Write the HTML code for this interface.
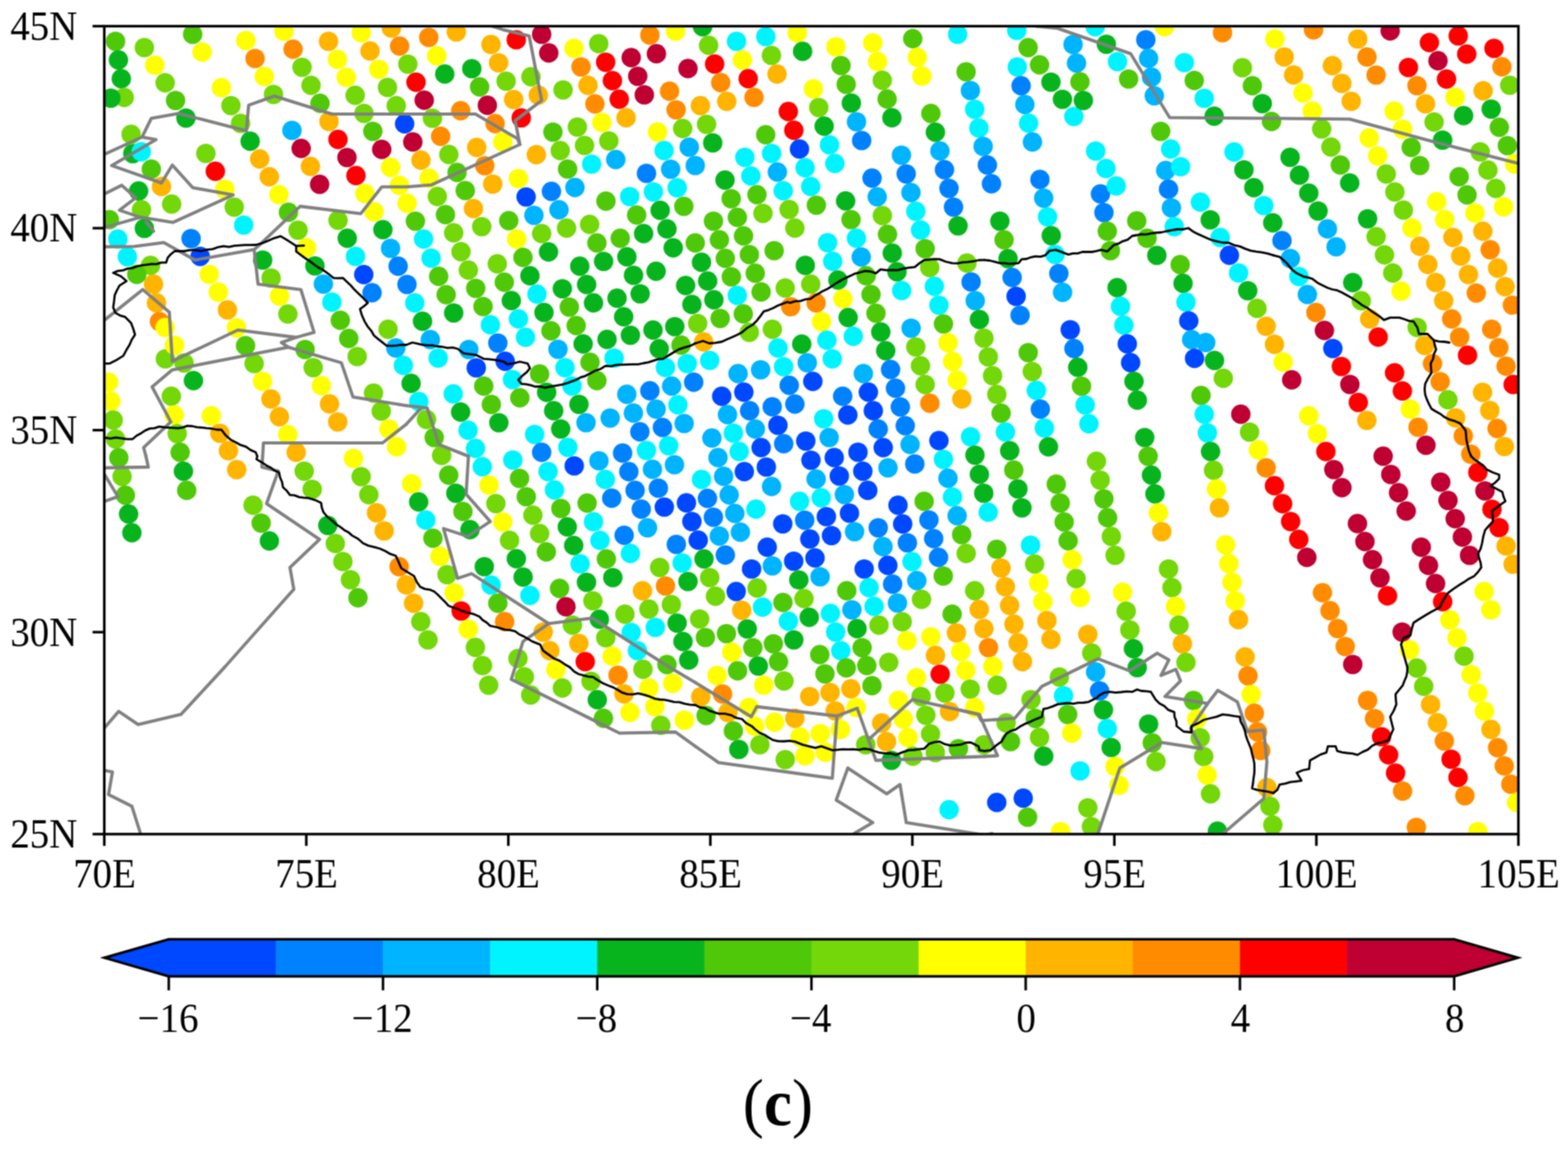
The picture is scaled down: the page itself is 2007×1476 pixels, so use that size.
<!DOCTYPE html>
<html lang="en"><head><meta charset="utf-8"><title>Figure (c)</title>
<style>html,body{margin:0;padding:0;background:#fff}body{width:2007px;height:1476px;overflow:hidden}svg{display:block}text{font-family:"Liberation Serif","DejaVu Serif",serif;fill:#000}.tk{font-size:53px}.cap{font-size:84.5px}.a{fill:#0048ff}.b{fill:#0082ff}.c{fill:#00b4ff}.d{fill:#00f4ff}.e{fill:#08b41e}.f{fill:#50c80a}.g{fill:#73d70a}.y{fill:#ffff00}.o{fill:#ffb400}.p{fill:#ff8c00}.r{fill:#ff0000}.m{fill:#be0032}</style></head><body>
<svg width="2007" height="1476" viewBox="0 0 2007 1476">
<defs><clipPath id="cp"><rect x="133.5" y="33.5" width="1810" height="1034.3"/></clipPath></defs>
<defs><filter id="soft" filterUnits="userSpaceOnUse" x="0" y="0" width="2007" height="1476" color-interpolation-filters="sRGB"><feConvolveMatrix order="3" kernelMatrix="1 2 1 2 4 2 1 2 1" divisor="16" edgeMode="duplicate" preserveAlpha="true"/></filter></defs>
<rect width="2007" height="1476" fill="#fff"/>
<g filter="url(#soft)">
<rect width="2007" height="1476" fill="#fff"/>
<g clip-path="url(#cp)">
<g>
<circle class="f" cx="147.9" cy="52.9" r="12.45"/>
<circle class="e" cx="151.6" cy="76.8" r="12.45"/>
<circle class="e" cx="155.3" cy="100.8" r="12.45"/>
<circle class="g" cx="159" cy="124.8" r="12.45"/>
<circle class="e" cx="170" cy="196.6" r="12.45"/>
<circle class="e" cx="177.4" cy="244.5" r="12.45"/>
<circle class="g" cx="181.1" cy="268.5" r="12.45"/>
<circle class="e" cx="184.8" cy="292.4" r="12.45"/>
<circle class="e" cx="141.9" cy="125.6" r="12.45"/>
<circle class="f" cx="139.9" cy="281.1" r="12.45"/>
<circle class="d" cx="150.9" cy="306" r="12.45"/>
<circle class="b" cx="244.6" cy="305.4" r="12.45"/>
<circle class="g" cx="184.8" cy="60.9" r="12.45"/>
<circle class="y" cx="198.1" cy="83.4" r="12.45"/>
<circle class="g" cx="211.4" cy="106" r="12.45"/>
<circle class="f" cx="224.7" cy="128.6" r="12.45"/>
<circle class="e" cx="238" cy="151.1" r="12.45"/>
<circle class="g" cx="167.8" cy="171.9" r="12.45"/>
<circle class="d" cx="180.8" cy="194.2" r="12.45"/>
<circle class="f" cx="193.7" cy="216.5" r="12.45"/>
<circle class="o" cx="206.7" cy="238.8" r="12.45"/>
<circle class="g" cx="219.7" cy="261.2" r="12.45"/>
<circle class="f" cx="246.6" cy="43.9" r="12.45"/>
<circle class="y" cx="258.8" cy="66.7" r="12.45"/>
<circle class="y" cx="283.4" cy="112.3" r="12.45"/>
<circle class="g" cx="295.6" cy="135.1" r="12.45"/>
<circle class="g" cx="307.9" cy="157.9" r="12.45"/>
<circle class="e" cx="320.2" cy="180.7" r="12.45"/>
<circle class="o" cx="332.4" cy="203.5" r="12.45"/>
<circle class="o" cx="344.7" cy="226.3" r="12.45"/>
<circle class="y" cx="357" cy="249.1" r="12.45"/>
<circle class="f" cx="369.2" cy="271.8" r="12.45"/>
<circle class="g" cx="381.5" cy="294.6" r="12.45"/>
<circle class="g" cx="263.5" cy="196.4" r="12.45"/>
<circle class="r" cx="275.6" cy="219.3" r="12.45"/>
<circle class="y" cx="287.7" cy="242.2" r="12.45"/>
<circle class="g" cx="299.8" cy="265.1" r="12.45"/>
<circle class="d" cx="311.9" cy="288.1" r="12.45"/>
<circle class="y" cx="314.7" cy="51.9" r="12.45"/>
<circle class="p" cx="326.5" cy="74.9" r="12.45"/>
<circle class="y" cx="338.3" cy="97.9" r="12.45"/>
<circle class="g" cx="350.1" cy="120.9" r="12.45"/>
<circle class="c" cx="373.7" cy="166.9" r="12.45"/>
<circle class="m" cx="385.5" cy="190" r="12.45"/>
<circle class="o" cx="397.3" cy="213" r="12.45"/>
<circle class="m" cx="409.1" cy="236" r="12.45"/>
<circle class="g" cx="432.7" cy="282" r="12.45"/>
<circle class="e" cx="444.5" cy="305" r="12.45"/>
<circle class="y" cx="363.5" cy="39.9" r="12.45"/>
<circle class="p" cx="375.1" cy="63" r="12.45"/>
<circle class="g" cx="386.6" cy="86.1" r="12.45"/>
<circle class="g" cx="398.1" cy="109.2" r="12.45"/>
<circle class="f" cx="409.6" cy="132.3" r="12.45"/>
<circle class="o" cx="421.1" cy="155.4" r="12.45"/>
<circle class="r" cx="432.6" cy="178.5" r="12.45"/>
<circle class="m" cx="444.1" cy="201.6" r="12.45"/>
<circle class="r" cx="455.6" cy="224.7" r="12.45"/>
<circle class="y" cx="467.1" cy="247.8" r="12.45"/>
<circle class="y" cx="478.6" cy="270.9" r="12.45"/>
<circle class="e" cx="490.1" cy="294" r="12.45"/>
<circle class="o" cx="420.5" cy="52.9" r="12.45"/>
<circle class="y" cx="431.9" cy="75.9" r="12.45"/>
<circle class="y" cx="443.2" cy="99" r="12.45"/>
<circle class="g" cx="454.6" cy="122" r="12.45"/>
<circle class="g" cx="465.9" cy="145.1" r="12.45"/>
<circle class="f" cx="477.2" cy="168.1" r="12.45"/>
<circle class="m" cx="488.6" cy="191.2" r="12.45"/>
<circle class="y" cx="499.9" cy="214.2" r="12.45"/>
<circle class="y" cx="511.2" cy="237.2" r="12.45"/>
<circle class="y" cx="462.4" cy="41.9" r="12.45"/>
<circle class="o" cx="473.6" cy="65.2" r="12.45"/>
<circle class="y" cx="484.8" cy="88.6" r="12.45"/>
<circle class="g" cx="496" cy="111.9" r="12.45"/>
<circle class="g" cx="507.2" cy="135.2" r="12.45"/>
<circle class="o" cx="501" cy="35.9" r="12.45"/>
<circle class="p" cx="511.5" cy="59" r="12.45"/>
<circle class="g" cx="522" cy="82.1" r="12.45"/>
<circle class="r" cx="532.5" cy="105.2" r="12.45"/>
<circle class="m" cx="543" cy="128.3" r="12.45"/>
<circle class="g" cx="553.5" cy="151.4" r="12.45"/>
<circle class="p" cx="564" cy="174.5" r="12.45"/>
<circle class="g" cx="574.5" cy="197.7" r="12.45"/>
<circle class="f" cx="585" cy="220.8" r="12.45"/>
<circle class="f" cx="595.5" cy="243.9" r="12.45"/>
<circle class="o" cx="606" cy="267" r="12.45"/>
<circle class="g" cx="616.6" cy="290.1" r="12.45"/>
<circle class="a" cx="517.9" cy="158.5" r="12.45"/>
<circle class="m" cx="528.4" cy="181.8" r="12.45"/>
<circle class="o" cx="538.8" cy="205" r="12.45"/>
<circle class="y" cx="549.3" cy="228.3" r="12.45"/>
<circle class="g" cx="559.8" cy="251.5" r="12.45"/>
<circle class="f" cx="570.2" cy="274.8" r="12.45"/>
<circle class="g" cx="580.7" cy="298" r="12.45"/>
<circle class="y" cx="521.1" cy="260.2" r="12.45"/>
<circle class="f" cx="531.7" cy="283.1" r="12.45"/>
<circle class="d" cx="542.2" cy="306" r="12.45"/>
<circle class="p" cx="548.8" cy="47.9" r="12.45"/>
<circle class="y" cx="559" cy="71.4" r="12.45"/>
<circle class="e" cx="569.3" cy="94.8" r="12.45"/>
<circle class="p" cx="589.7" cy="141.8" r="12.45"/>
<circle class="o" cx="610.2" cy="188.7" r="12.45"/>
<circle class="p" cx="620.5" cy="212.1" r="12.45"/>
<circle class="o" cx="630.7" cy="235.6" r="12.45"/>
<circle class="f" cx="651.2" cy="282.5" r="12.45"/>
<circle class="y" cx="661.4" cy="306" r="12.45"/>
<circle class="o" cx="584.1" cy="40.9" r="12.45"/>
<circle class="e" cx="603.9" cy="87.9" r="12.45"/>
<circle class="f" cx="613.9" cy="111.3" r="12.45"/>
<circle class="m" cx="623.8" cy="134.8" r="12.45"/>
<circle class="p" cx="633.7" cy="158.2" r="12.45"/>
<circle class="y" cx="643.6" cy="181.7" r="12.45"/>
<circle class="y" cx="663.5" cy="228.6" r="12.45"/>
<circle class="a" cx="673.4" cy="252.1" r="12.45"/>
<circle class="c" cx="683.4" cy="275.6" r="12.45"/>
<circle class="g" cx="693.3" cy="299" r="12.45"/>
<circle class="o" cx="628.5" cy="56.9" r="12.45"/>
<circle class="o" cx="638.2" cy="80.4" r="12.45"/>
<circle class="g" cx="647.8" cy="103.9" r="12.45"/>
<circle class="o" cx="657.5" cy="127.4" r="12.45"/>
<circle class="r" cx="667.2" cy="150.9" r="12.45"/>
<circle class="o" cx="686.5" cy="198" r="12.45"/>
<circle class="b" cx="705.8" cy="245" r="12.45"/>
<circle class="c" cx="715.5" cy="268.5" r="12.45"/>
<circle class="g" cx="725.2" cy="292" r="12.45"/>
<circle class="r" cx="660.8" cy="50.9" r="12.45"/>
<circle class="g" cx="679.6" cy="98.2" r="12.45"/>
<circle class="o" cx="689" cy="121.8" r="12.45"/>
<circle class="f" cx="707.7" cy="169.1" r="12.45"/>
<circle class="g" cx="717.1" cy="192.8" r="12.45"/>
<circle class="f" cx="726.5" cy="216.4" r="12.45"/>
<circle class="c" cx="735.9" cy="240" r="12.45"/>
<circle class="g" cx="754.7" cy="287.3" r="12.45"/>
<circle class="f" cx="764" cy="311" r="12.45"/>
<circle class="m" cx="693.3" cy="43.9" r="12.45"/>
<circle class="m" cx="702.4" cy="67.7" r="12.45"/>
<circle class="g" cx="720.7" cy="115.1" r="12.45"/>
<circle class="g" cx="739" cy="162.6" r="12.45"/>
<circle class="g" cx="748.2" cy="186.3" r="12.45"/>
<circle class="d" cx="757.3" cy="210.1" r="12.45"/>
<circle class="f" cx="775.6" cy="257.5" r="12.45"/>
<circle class="f" cx="793.9" cy="305" r="12.45"/>
<circle class="y" cx="734.7" cy="61.9" r="12.45"/>
<circle class="p" cx="743.7" cy="85.6" r="12.45"/>
<circle class="o" cx="752.6" cy="109.3" r="12.45"/>
<circle class="p" cx="761.5" cy="133" r="12.45"/>
<circle class="y" cx="770.4" cy="156.7" r="12.45"/>
<circle class="g" cx="779.3" cy="180.4" r="12.45"/>
<circle class="c" cx="788.2" cy="204.2" r="12.45"/>
<circle class="d" cx="806" cy="251.6" r="12.45"/>
<circle class="f" cx="814.9" cy="275.3" r="12.45"/>
<circle class="e" cx="823.8" cy="299" r="12.45"/>
<circle class="g" cx="766.4" cy="55.9" r="12.45"/>
<circle class="r" cx="775.2" cy="79.6" r="12.45"/>
<circle class="r" cx="783.9" cy="103.3" r="12.45"/>
<circle class="r" cx="792.6" cy="127" r="12.45"/>
<circle class="o" cx="801.4" cy="150.7" r="12.45"/>
<circle class="b" cx="827.5" cy="221.9" r="12.45"/>
<circle class="d" cx="836.3" cy="245.6" r="12.45"/>
<circle class="e" cx="845" cy="269.3" r="12.45"/>
<circle class="e" cx="853.7" cy="293" r="12.45"/>
<circle class="m" cx="807.9" cy="73.8" r="12.45"/>
<circle class="m" cx="816.3" cy="97.6" r="12.45"/>
<circle class="m" cx="824.7" cy="121.4" r="12.45"/>
<circle class="y" cx="841.6" cy="169" r="12.45"/>
<circle class="d" cx="850" cy="192.8" r="12.45"/>
<circle class="c" cx="858.4" cy="216.6" r="12.45"/>
<circle class="d" cx="866.8" cy="240.4" r="12.45"/>
<circle class="f" cx="875.3" cy="264.1" r="12.45"/>
<circle class="p" cx="831.8" cy="44.9" r="12.45"/>
<circle class="m" cx="840.2" cy="68.8" r="12.45"/>
<circle class="p" cx="857" cy="116.7" r="12.45"/>
<circle class="p" cx="865.4" cy="140.6" r="12.45"/>
<circle class="g" cx="873.8" cy="164.5" r="12.45"/>
<circle class="c" cx="882.2" cy="188.4" r="12.45"/>
<circle class="y" cx="864.7" cy="39.9" r="12.45"/>
<circle class="m" cx="880.6" cy="87.8" r="12.45"/>
<circle class="o" cx="896.5" cy="135.2" r="12.45"/>
<circle class="g" cx="904.4" cy="159.1" r="12.45"/>
<circle class="e" cx="912.3" cy="182.9" r="12.45"/>
<circle class="e" cx="928" cy="230.5" r="12.45"/>
<circle class="f" cx="935.9" cy="254.4" r="12.45"/>
<circle class="f" cx="943.8" cy="278.2" r="12.45"/>
<circle class="f" cx="951.7" cy="302" r="12.45"/>
<circle class="c" cx="889.9" cy="211.9" r="12.45"/>
<circle class="f" cx="913.2" cy="283.1" r="12.45"/>
<circle class="f" cx="920.8" cy="307" r="12.45"/>
<circle class="f" cx="889.9" cy="311" r="12.45"/>
<circle class="e" cx="899.3" cy="34.2" r="12.45"/>
<circle class="g" cx="907" cy="58" r="12.45"/>
<circle class="r" cx="914.7" cy="81.9" r="12.45"/>
<circle class="p" cx="922.5" cy="105.8" r="12.45"/>
<circle class="o" cx="930.2" cy="129.7" r="12.45"/>
<circle class="d" cx="953.4" cy="201.4" r="12.45"/>
<circle class="d" cx="961.1" cy="225.3" r="12.45"/>
<circle class="f" cx="968.9" cy="249.2" r="12.45"/>
<circle class="g" cx="976.6" cy="273.1" r="12.45"/>
<circle class="d" cx="942.7" cy="52.9" r="12.45"/>
<circle class="y" cx="950.2" cy="76.8" r="12.45"/>
<circle class="r" cx="957.7" cy="100.7" r="12.45"/>
<circle class="p" cx="965.1" cy="124.6" r="12.45"/>
<circle class="f" cx="980.1" cy="172.5" r="12.45"/>
<circle class="d" cx="987.6" cy="196.4" r="12.45"/>
<circle class="c" cx="995" cy="220.3" r="12.45"/>
<circle class="d" cx="1002.5" cy="244.2" r="12.45"/>
<circle class="g" cx="1010" cy="268.1" r="12.45"/>
<circle class="g" cx="1017.4" cy="292" r="12.45"/>
<circle class="d" cx="980.2" cy="46.9" r="12.45"/>
<circle class="g" cx="987.4" cy="70.9" r="12.45"/>
<circle class="o" cx="994.6" cy="94.8" r="12.45"/>
<circle class="r" cx="1009" cy="142.8" r="12.45"/>
<circle class="r" cx="1016.1" cy="166.8" r="12.45"/>
<circle class="a" cx="1023.3" cy="190.7" r="12.45"/>
<circle class="d" cx="1030.5" cy="214.7" r="12.45"/>
<circle class="d" cx="1037.7" cy="238.7" r="12.45"/>
<circle class="f" cx="1044.9" cy="262.6" r="12.45"/>
<circle class="d" cx="1059.3" cy="310.6" r="12.45"/>
<circle class="y" cx="1020.4" cy="41.9" r="12.45"/>
<circle class="e" cx="1027.3" cy="65.8" r="12.45"/>
<circle class="y" cx="1041.1" cy="113.7" r="12.45"/>
<circle class="g" cx="1048" cy="137.6" r="12.45"/>
<circle class="e" cx="1054.9" cy="161.5" r="12.45"/>
<circle class="d" cx="1061.7" cy="185.4" r="12.45"/>
<circle class="d" cx="1068.6" cy="209.3" r="12.45"/>
<circle class="e" cx="1082.4" cy="257.2" r="12.45"/>
<circle class="f" cx="1089.3" cy="281.1" r="12.45"/>
<circle class="d" cx="1096.2" cy="305" r="12.45"/>
<circle class="y" cx="1069.9" cy="59.9" r="12.45"/>
<circle class="f" cx="1076.5" cy="83.9" r="12.45"/>
<circle class="f" cx="1083.1" cy="107.9" r="12.45"/>
<circle class="e" cx="1089.7" cy="131.9" r="12.45"/>
<circle class="c" cx="1096.3" cy="155.9" r="12.45"/>
<circle class="b" cx="1102.9" cy="179.9" r="12.45"/>
<circle class="b" cx="1116.2" cy="228" r="12.45"/>
<circle class="c" cx="1122.8" cy="252" r="12.45"/>
<circle class="g" cx="1129.4" cy="276" r="12.45"/>
<circle class="f" cx="1136" cy="300" r="12.45"/>
<circle class="y" cx="1117.1" cy="54.9" r="12.45"/>
<circle class="y" cx="1123.2" cy="78.8" r="12.45"/>
<circle class="g" cx="1129.3" cy="102.8" r="12.45"/>
<circle class="f" cx="1135.5" cy="126.7" r="12.45"/>
<circle class="e" cx="1141.6" cy="150.7" r="12.45"/>
<circle class="c" cx="1153.8" cy="198.6" r="12.45"/>
<circle class="b" cx="1159.9" cy="222.6" r="12.45"/>
<circle class="c" cx="1166" cy="246.5" r="12.45"/>
<circle class="d" cx="1172.2" cy="270.5" r="12.45"/>
<circle class="d" cx="1178.3" cy="294.4" r="12.45"/>
<circle class="f" cx="1168.3" cy="49.5" r="12.45"/>
<circle class="y" cx="1174.1" cy="73.5" r="12.45"/>
<circle class="y" cx="1179.9" cy="97.4" r="12.45"/>
<circle class="f" cx="1191.5" cy="145.3" r="12.45"/>
<circle class="e" cx="1197.3" cy="169.3" r="12.45"/>
<circle class="c" cx="1203.1" cy="193.2" r="12.45"/>
<circle class="b" cx="1208.9" cy="217.2" r="12.45"/>
<circle class="b" cx="1214.7" cy="241.1" r="12.45"/>
<circle class="b" cx="1220.5" cy="265.1" r="12.45"/>
<circle class="e" cx="1226.3" cy="289.1" r="12.45"/>
<circle class="d" cx="1225.7" cy="43.9" r="12.45"/>
<circle class="f" cx="1236.6" cy="91.9" r="12.45"/>
<circle class="c" cx="1242.1" cy="115.9" r="12.45"/>
<circle class="d" cx="1247.6" cy="139.9" r="12.45"/>
<circle class="d" cx="1253" cy="163.9" r="12.45"/>
<circle class="c" cx="1258.4" cy="187.4" r="12.45"/>
<circle class="b" cx="1263.8" cy="211.3" r="12.45"/>
<circle class="b" cx="1269.1" cy="235.2" r="12.45"/>
<circle class="e" cx="1279.8" cy="283.1" r="12.45"/>
<circle class="f" cx="1285.2" cy="307" r="12.45"/>
<circle class="d" cx="1302.1" cy="85.8" r="12.45"/>
<circle class="b" cx="1307" cy="109.8" r="12.45"/>
<circle class="c" cx="1311.8" cy="133.7" r="12.45"/>
<circle class="d" cx="1316.6" cy="157.7" r="12.45"/>
<circle class="c" cx="1321.5" cy="181.7" r="12.45"/>
<circle class="b" cx="1331.1" cy="229.7" r="12.45"/>
<circle class="c" cx="1335.9" cy="253.6" r="12.45"/>
<circle class="d" cx="1340.8" cy="277.6" r="12.45"/>
<circle class="e" cx="1345.6" cy="301.6" r="12.45"/>
<circle class="d" cx="1301.4" cy="38.9" r="12.45"/>
<circle class="f" cx="1316" cy="61" r="12.45"/>
<circle class="f" cx="1330.6" cy="83" r="12.45"/>
<circle class="e" cx="1345.2" cy="105.1" r="12.45"/>
<circle class="e" cx="1359.9" cy="127.1" r="12.45"/>
<circle class="d" cx="1374.5" cy="149.1" r="12.45"/>
<circle class="c" cx="1373.5" cy="56.9" r="12.45"/>
<circle class="c" cx="1377.9" cy="80.8" r="12.45"/>
<circle class="f" cx="1382.3" cy="104.7" r="12.45"/>
<circle class="e" cx="1386.7" cy="128.6" r="12.45"/>
<circle class="b" cx="1408.6" cy="248.2" r="12.45"/>
<circle class="b" cx="1413" cy="272.1" r="12.45"/>
<circle class="f" cx="1417.3" cy="296" r="12.45"/>
<circle class="d" cx="1401.8" cy="34.3" r="12.45"/>
<circle class="e" cx="1416.1" cy="56.6" r="12.45"/>
<circle class="d" cx="1430.4" cy="78.9" r="12.45"/>
<circle class="f" cx="1444.6" cy="101.1" r="12.45"/>
<circle class="b" cx="1466.6" cy="50.9" r="12.45"/>
<circle class="c" cx="1470.2" cy="74.8" r="12.45"/>
<circle class="c" cx="1473.9" cy="98.7" r="12.45"/>
<circle class="c" cx="1477.5" cy="122.6" r="12.45"/>
<circle class="c" cx="1492.1" cy="218.3" r="12.45"/>
<circle class="b" cx="1495.7" cy="242.2" r="12.45"/>
<circle class="c" cx="1499.4" cy="266.1" r="12.45"/>
<circle class="d" cx="1503" cy="290.1" r="12.45"/>
<circle class="y" cx="1490.5" cy="34.3" r="12.45"/>
<circle class="d" cx="1515.9" cy="80.1" r="12.45"/>
<circle class="f" cx="1528.6" cy="103" r="12.45"/>
<circle class="d" cx="1541.4" cy="125.9" r="12.45"/>
<circle class="e" cx="1554.1" cy="148.7" r="12.45"/>
<circle class="d" cx="1579.5" cy="194.5" r="12.45"/>
<circle class="e" cx="1592.2" cy="217.4" r="12.45"/>
<circle class="e" cx="1604.9" cy="240.3" r="12.45"/>
<circle class="d" cx="1617.6" cy="263.1" r="12.45"/>
<circle class="f" cx="1485.7" cy="168.1" r="12.45"/>
<circle class="d" cx="1498.4" cy="190.7" r="12.45"/>
<circle class="d" cx="1511.1" cy="213.4" r="12.45"/>
<circle class="d" cx="1536.5" cy="258.7" r="12.45"/>
<circle class="e" cx="1549.1" cy="281.4" r="12.45"/>
<circle class="d" cx="1561.8" cy="304" r="12.45"/>
<circle class="g" cx="1590.3" cy="86.8" r="12.45"/>
<circle class="f" cx="1603" cy="109.7" r="12.45"/>
<circle class="e" cx="1615.7" cy="132.6" r="12.45"/>
<circle class="p" cx="1564.8" cy="41.9" r="12.45"/>
<circle class="d" cx="1402.4" cy="193.4" r="12.45"/>
<circle class="d" cx="1415.6" cy="215.7" r="12.45"/>
<circle class="d" cx="1428.7" cy="238" r="12.45"/>
<circle class="f" cx="1455" cy="282.7" r="12.45"/>
<circle class="f" cx="1468.2" cy="305" r="12.45"/>
<circle class="f" cx="1627.5" cy="155.5" r="12.45"/>
<circle class="e" cx="1651.3" cy="201.4" r="12.45"/>
<circle class="e" cx="1663.3" cy="224.3" r="12.45"/>
<circle class="e" cx="1675.2" cy="247.2" r="12.45"/>
<circle class="e" cx="1687.1" cy="270.1" r="12.45"/>
<circle class="c" cx="1699.1" cy="293" r="12.45"/>
<circle class="y" cx="1631.9" cy="49.9" r="12.45"/>
<circle class="o" cx="1643.8" cy="72.9" r="12.45"/>
<circle class="o" cx="1655.8" cy="96" r="12.45"/>
<circle class="y" cx="1667.8" cy="119" r="12.45"/>
<circle class="y" cx="1679.7" cy="142.1" r="12.45"/>
<circle class="g" cx="1691.7" cy="165.1" r="12.45"/>
<circle class="g" cx="1703.6" cy="188.2" r="12.45"/>
<circle class="f" cx="1715.6" cy="211.2" r="12.45"/>
<circle class="e" cx="1727.6" cy="234.3" r="12.45"/>
<circle class="e" cx="1750.5" cy="280.1" r="12.45"/>
<circle class="g" cx="1761.4" cy="303" r="12.45"/>
<circle class="p" cx="1681.3" cy="38.3" r="12.45"/>
<circle class="o" cx="1705.4" cy="84" r="12.45"/>
<circle class="o" cx="1717.5" cy="106.8" r="12.45"/>
<circle class="o" cx="1729.5" cy="129.6" r="12.45"/>
<circle class="y" cx="1752.5" cy="176.5" r="12.45"/>
<circle class="y" cx="1763.4" cy="199.6" r="12.45"/>
<circle class="g" cx="1774.4" cy="222.7" r="12.45"/>
<circle class="g" cx="1785.4" cy="245.8" r="12.45"/>
<circle class="g" cx="1796.3" cy="268.9" r="12.45"/>
<circle class="y" cx="1807.3" cy="292" r="12.45"/>
<circle class="o" cx="1737.9" cy="49.9" r="12.45"/>
<circle class="p" cx="1749.7" cy="73" r="12.45"/>
<circle class="p" cx="1761.4" cy="96.1" r="12.45"/>
<circle class="y" cx="1784.4" cy="142.2" r="12.45"/>
<circle class="y" cx="1795.3" cy="165.4" r="12.45"/>
<circle class="f" cx="1806.3" cy="188.7" r="12.45"/>
<circle class="f" cx="1817.2" cy="211.9" r="12.45"/>
<circle class="y" cx="1838.8" cy="258.2" r="12.45"/>
<circle class="y" cx="1849.2" cy="281.1" r="12.45"/>
<circle class="o" cx="1859.7" cy="304" r="12.45"/>
<circle class="r" cx="1802.7" cy="86.4" r="12.45"/>
<circle class="p" cx="1813.7" cy="109.6" r="12.45"/>
<circle class="o" cx="1824.6" cy="132.9" r="12.45"/>
<circle class="g" cx="1835.6" cy="156.2" r="12.45"/>
<circle class="e" cx="1846.5" cy="179.4" r="12.45"/>
<circle class="f" cx="1867.7" cy="226.3" r="12.45"/>
<circle class="f" cx="1877.8" cy="249.5" r="12.45"/>
<circle class="y" cx="1887.9" cy="272.8" r="12.45"/>
<circle class="o" cx="1898" cy="296" r="12.45"/>
<circle class="m" cx="1779.4" cy="39.5" r="12.45"/>
<circle class="r" cx="1829.6" cy="54.5" r="12.45"/>
<circle class="m" cx="1840.6" cy="77.8" r="12.45"/>
<circle class="r" cx="1851.5" cy="101.2" r="12.45"/>
<circle class="y" cx="1862.5" cy="124.6" r="12.45"/>
<circle class="e" cx="1873.4" cy="148" r="12.45"/>
<circle class="g" cx="1894.6" cy="194.4" r="12.45"/>
<circle class="g" cx="1904.5" cy="217.8" r="12.45"/>
<circle class="g" cx="1914.5" cy="241.3" r="12.45"/>
<circle class="y" cx="1924.5" cy="264.7" r="12.45"/>
<circle class="r" cx="1866.5" cy="45.9" r="12.45"/>
<circle class="r" cx="1877.4" cy="69.2" r="12.45"/>
<circle class="o" cx="1898.4" cy="116.3" r="12.45"/>
<circle class="e" cx="1908.7" cy="139.6" r="12.45"/>
<circle class="f" cx="1919.1" cy="163" r="12.45"/>
<circle class="f" cx="1929.4" cy="186.4" r="12.45"/>
<circle class="y" cx="1938.8" cy="209.9" r="12.45"/>
<circle class="r" cx="1912.3" cy="61.9" r="12.45"/>
<circle class="p" cx="1922.4" cy="85.5" r="12.45"/>
<circle class="g" cx="1932.4" cy="109.1" r="12.45"/>
<circle class="e" cx="1629.1" cy="285.2" r="12.45"/>
<circle class="b" cx="1640.9" cy="308" r="12.45"/>
<circle class="g" cx="192.7" cy="339.8" r="12.45"/>
<circle class="o" cx="196.5" cy="363.7" r="12.45"/>
<circle class="o" cx="200.3" cy="387.7" r="12.45"/>
<circle class="p" cx="204.1" cy="411.6" r="12.45"/>
<circle class="g" cx="211.7" cy="459.4" r="12.45"/>
<circle class="g" cx="219.3" cy="507.2" r="12.45"/>
<circle class="y" cx="223" cy="531.2" r="12.45"/>
<circle class="g" cx="226.8" cy="555.1" r="12.45"/>
<circle class="f" cx="230.6" cy="579" r="12.45"/>
<circle class="d" cx="163" cy="328.6" r="12.45"/>
<circle class="f" cx="175.1" cy="351.3" r="12.45"/>
<circle class="y" cx="211.3" cy="419.3" r="12.45"/>
<circle class="y" cx="223.4" cy="442" r="12.45"/>
<circle class="g" cx="235.5" cy="464.6" r="12.45"/>
<circle class="e" cx="247.6" cy="487.3" r="12.45"/>
<circle class="a" cx="256.2" cy="328.2" r="12.45"/>
<circle class="y" cx="267.8" cy="351.1" r="12.45"/>
<circle class="y" cx="279.4" cy="373.9" r="12.45"/>
<circle class="o" cx="291.1" cy="396.8" r="12.45"/>
<circle class="y" cx="302.7" cy="419.6" r="12.45"/>
<circle class="f" cx="314.3" cy="442.5" r="12.45"/>
<circle class="g" cx="325.3" cy="465.4" r="12.45"/>
<circle class="y" cx="336" cy="488.1" r="12.45"/>
<circle class="o" cx="346.8" cy="510.8" r="12.45"/>
<circle class="o" cx="357.6" cy="533.5" r="12.45"/>
<circle class="y" cx="368.3" cy="556.3" r="12.45"/>
<circle class="o" cx="379.1" cy="579" r="12.45"/>
<circle class="e" cx="336.2" cy="332.9" r="12.45"/>
<circle class="g" cx="347" cy="355.9" r="12.45"/>
<circle class="y" cx="357.8" cy="379" r="12.45"/>
<circle class="g" cx="368.5" cy="402" r="12.45"/>
<circle class="f" cx="390.5" cy="447.4" r="12.45"/>
<circle class="g" cx="400.9" cy="470.6" r="12.45"/>
<circle class="y" cx="411.4" cy="493.8" r="12.45"/>
<circle class="o" cx="421.8" cy="517" r="12.45"/>
<circle class="o" cx="432.3" cy="540.1" r="12.45"/>
<circle class="y" cx="392.3" cy="317.2" r="12.45"/>
<circle class="e" cx="403.1" cy="340.4" r="12.45"/>
<circle class="c" cx="413.9" cy="363.6" r="12.45"/>
<circle class="d" cx="424.8" cy="386.8" r="12.45"/>
<circle class="f" cx="435.6" cy="410" r="12.45"/>
<circle class="f" cx="446.4" cy="433.2" r="12.45"/>
<circle class="g" cx="457.2" cy="456.4" r="12.45"/>
<circle class="g" cx="478.1" cy="503.3" r="12.45"/>
<circle class="g" cx="488" cy="526.2" r="12.45"/>
<circle class="y" cx="497.8" cy="549.1" r="12.45"/>
<circle class="y" cx="507.6" cy="572" r="12.45"/>
<circle class="d" cx="455" cy="328.2" r="12.45"/>
<circle class="a" cx="465.6" cy="351.5" r="12.45"/>
<circle class="b" cx="476.2" cy="374.7" r="12.45"/>
<circle class="g" cx="496.7" cy="421.5" r="12.45"/>
<circle class="c" cx="506.6" cy="445.5" r="12.45"/>
<circle class="c" cx="499.9" cy="317.9" r="12.45"/>
<circle class="b" cx="509.6" cy="340.8" r="12.45"/>
<circle class="y" cx="138.9" cy="489.3" r="12.45"/>
<circle class="y" cx="141.9" cy="513.6" r="12.45"/>
<circle class="g" cx="144.9" cy="537.8" r="12.45"/>
<circle class="g" cx="147.9" cy="562" r="12.45"/>
<circle class="y" cx="270.5" cy="532.2" r="12.45"/>
<circle class="o" cx="281.4" cy="554.6" r="12.45"/>
<circle class="o" cx="292.4" cy="577" r="12.45"/>
<circle class="d" cx="551.8" cy="330.4" r="12.45"/>
<circle class="f" cx="561.5" cy="353.8" r="12.45"/>
<circle class="f" cx="571.1" cy="377.2" r="12.45"/>
<circle class="e" cx="580.7" cy="400.6" r="12.45"/>
<circle class="c" cx="600" cy="447.4" r="12.45"/>
<circle class="a" cx="609.6" cy="470.9" r="12.45"/>
<circle class="f" cx="619.2" cy="494.3" r="12.45"/>
<circle class="f" cx="628.9" cy="517.7" r="12.45"/>
<circle class="e" cx="638.5" cy="541.1" r="12.45"/>
<circle class="g" cx="590.1" cy="322.3" r="12.45"/>
<circle class="g" cx="599.5" cy="345.7" r="12.45"/>
<circle class="f" cx="608.9" cy="369.1" r="12.45"/>
<circle class="f" cx="618.3" cy="392.4" r="12.45"/>
<circle class="d" cx="627.7" cy="415.8" r="12.45"/>
<circle class="b" cx="637.2" cy="439.1" r="12.45"/>
<circle class="a" cx="646.6" cy="462.5" r="12.45"/>
<circle class="d" cx="656" cy="485.9" r="12.45"/>
<circle class="f" cx="665.4" cy="509.2" r="12.45"/>
<circle class="d" cx="684.3" cy="556.1" r="12.45"/>
<circle class="b" cx="693.3" cy="579" r="12.45"/>
<circle class="g" cx="636.5" cy="337.8" r="12.45"/>
<circle class="f" cx="645.5" cy="361.3" r="12.45"/>
<circle class="e" cx="654.5" cy="384.8" r="12.45"/>
<circle class="d" cx="663.6" cy="408.3" r="12.45"/>
<circle class="d" cx="672.6" cy="431.7" r="12.45"/>
<circle class="f" cx="690.7" cy="478.7" r="12.45"/>
<circle class="e" cx="699.7" cy="502.2" r="12.45"/>
<circle class="e" cx="708.7" cy="525.7" r="12.45"/>
<circle class="e" cx="717.7" cy="549.1" r="12.45"/>
<circle class="d" cx="726.8" cy="572.6" r="12.45"/>
<circle class="f" cx="669.4" cy="329.5" r="12.45"/>
<circle class="e" cx="678.3" cy="353" r="12.45"/>
<circle class="d" cx="687.3" cy="376.5" r="12.45"/>
<circle class="e" cx="696.3" cy="400" r="12.45"/>
<circle class="f" cx="705.2" cy="423.5" r="12.45"/>
<circle class="c" cx="714.2" cy="447.1" r="12.45"/>
<circle class="d" cx="723.2" cy="470.6" r="12.45"/>
<circle class="d" cx="732.2" cy="494.1" r="12.45"/>
<circle class="e" cx="741.1" cy="517.6" r="12.45"/>
<circle class="c" cx="750.1" cy="541.1" r="12.45"/>
<circle class="e" cx="702.1" cy="322.5" r="12.45"/>
<circle class="e" cx="719.8" cy="369.6" r="12.45"/>
<circle class="f" cx="728.7" cy="393.1" r="12.45"/>
<circle class="f" cx="737.5" cy="416.7" r="12.45"/>
<circle class="e" cx="746.4" cy="440.2" r="12.45"/>
<circle class="f" cx="755.2" cy="463.8" r="12.45"/>
<circle class="f" cx="764" cy="487.3" r="12.45"/>
<circle class="c" cx="781" cy="535.1" r="12.45"/>
<circle class="b" cx="796.9" cy="580" r="12.45"/>
<circle class="e" cx="742.1" cy="340.8" r="12.45"/>
<circle class="e" cx="750.9" cy="364.2" r="12.45"/>
<circle class="e" cx="759.7" cy="387.7" r="12.45"/>
<circle class="e" cx="777" cy="434.5" r="12.45"/>
<circle class="d" cx="786" cy="458.4" r="12.45"/>
<circle class="c" cx="802.3" cy="504.8" r="12.45"/>
<circle class="c" cx="810.7" cy="528.8" r="12.45"/>
<circle class="b" cx="819" cy="552.7" r="12.45"/>
<circle class="d" cx="827.4" cy="576.6" r="12.45"/>
<circle class="e" cx="772.6" cy="334.6" r="12.45"/>
<circle class="e" cx="789.8" cy="381.8" r="12.45"/>
<circle class="e" cx="798.3" cy="405.5" r="12.45"/>
<circle class="e" cx="806.9" cy="429.1" r="12.45"/>
<circle class="b" cx="831.8" cy="500.3" r="12.45"/>
<circle class="c" cx="839.8" cy="523.7" r="12.45"/>
<circle class="b" cx="847.9" cy="547.2" r="12.45"/>
<circle class="d" cx="855.9" cy="570.6" r="12.45"/>
<circle class="e" cx="802.4" cy="328.7" r="12.45"/>
<circle class="e" cx="810.9" cy="352.4" r="12.45"/>
<circle class="e" cx="819.4" cy="376.1" r="12.45"/>
<circle class="e" cx="835.8" cy="422.5" r="12.45"/>
<circle class="e" cx="843.8" cy="446.5" r="12.45"/>
<circle class="d" cx="851.7" cy="470.4" r="12.45"/>
<circle class="c" cx="859.7" cy="494.3" r="12.45"/>
<circle class="d" cx="867.7" cy="518.2" r="12.45"/>
<circle class="c" cx="875.7" cy="542.1" r="12.45"/>
<circle class="e" cx="839.8" cy="347.2" r="12.45"/>
<circle class="e" cx="863.7" cy="418.1" r="12.45"/>
<circle class="f" cx="871.7" cy="441.8" r="12.45"/>
<circle class="d" cx="879.6" cy="465.4" r="12.45"/>
<circle class="e" cx="861.7" cy="317.2" r="12.45"/>
<circle class="e" cx="877.6" cy="365.5" r="12.45"/>
<circle class="e" cx="885.6" cy="389.7" r="12.45"/>
<circle class="b" cx="520.9" cy="364.1" r="12.45"/>
<circle class="d" cx="530.9" cy="387.7" r="12.45"/>
<circle class="e" cx="540.8" cy="411.2" r="12.45"/>
<circle class="c" cx="550.8" cy="434.8" r="12.45"/>
<circle class="d" cx="560.8" cy="458.4" r="12.45"/>
<circle class="d" cx="580.1" cy="504.3" r="12.45"/>
<circle class="e" cx="589.6" cy="527.5" r="12.45"/>
<circle class="d" cx="599.1" cy="550.8" r="12.45"/>
<circle class="d" cx="608.6" cy="574" r="12.45"/>
<circle class="d" cx="516.3" cy="467.7" r="12.45"/>
<circle class="e" cx="526.2" cy="490.8" r="12.45"/>
<circle class="d" cx="536" cy="513.9" r="12.45"/>
<circle class="g" cx="545.9" cy="537" r="12.45"/>
<circle class="f" cx="555.8" cy="560.1" r="12.45"/>
<circle class="g" cx="565.3" cy="583" r="12.45"/>
<circle class="g" cx="893" cy="414.1" r="12.45"/>
<circle class="o" cx="900.7" cy="437.7" r="12.45"/>
<circle class="d" cx="908.4" cy="461.4" r="12.45"/>
<circle class="a" cx="923.8" cy="507.2" r="12.45"/>
<circle class="c" cx="931.2" cy="530.8" r="12.45"/>
<circle class="d" cx="938.7" cy="554.4" r="12.45"/>
<circle class="d" cx="946.1" cy="578" r="12.45"/>
<circle class="b" cx="887.9" cy="489.3" r="12.45"/>
<circle class="c" cx="911.2" cy="560.7" r="12.45"/>
<circle class="e" cx="897.9" cy="335.8" r="12.45"/>
<circle class="e" cx="905.8" cy="359.8" r="12.45"/>
<circle class="e" cx="913.8" cy="383.7" r="12.45"/>
<circle class="f" cx="921.8" cy="407.6" r="12.45"/>
<circle class="c" cx="944.7" cy="478.3" r="12.45"/>
<circle class="a" cx="952.1" cy="502" r="12.45"/>
<circle class="b" cx="959.5" cy="525.7" r="12.45"/>
<circle class="c" cx="966.8" cy="549.3" r="12.45"/>
<circle class="a" cx="974.2" cy="573" r="12.45"/>
<circle class="f" cx="928.4" cy="330.7" r="12.45"/>
<circle class="f" cx="936.1" cy="354.4" r="12.45"/>
<circle class="d" cx="943.7" cy="378.1" r="12.45"/>
<circle class="f" cx="951.4" cy="401.8" r="12.45"/>
<circle class="g" cx="959.1" cy="425.5" r="12.45"/>
<circle class="c" cx="973.6" cy="473.4" r="12.45"/>
<circle class="b" cx="988.4" cy="520.7" r="12.45"/>
<circle class="a" cx="995.7" cy="544.4" r="12.45"/>
<circle class="b" cx="1003.1" cy="568" r="12.45"/>
<circle class="f" cx="959.2" cy="325.9" r="12.45"/>
<circle class="f" cx="966.7" cy="349.8" r="12.45"/>
<circle class="f" cx="974.2" cy="373.7" r="12.45"/>
<circle class="g" cx="988.6" cy="421.5" r="12.45"/>
<circle class="d" cx="995.8" cy="445.5" r="12.45"/>
<circle class="d" cx="1003" cy="469.4" r="12.45"/>
<circle class="b" cx="1010.2" cy="493.3" r="12.45"/>
<circle class="b" cx="1017.4" cy="517.2" r="12.45"/>
<circle class="a" cx="1031.4" cy="564.6" r="12.45"/>
<circle class="f" cx="990.9" cy="320.9" r="12.45"/>
<circle class="g" cx="1005.1" cy="368.7" r="12.45"/>
<circle class="p" cx="1012.1" cy="392.6" r="12.45"/>
<circle class="e" cx="1026.2" cy="440.5" r="12.45"/>
<circle class="c" cx="1033.3" cy="464.4" r="12.45"/>
<circle class="a" cx="1040.4" cy="488.3" r="12.45"/>
<circle class="d" cx="1054.3" cy="536.1" r="12.45"/>
<circle class="c" cx="1061.3" cy="560.1" r="12.45"/>
<circle class="e" cx="1030.8" cy="339.8" r="12.45"/>
<circle class="g" cx="1037.7" cy="363.7" r="12.45"/>
<circle class="p" cx="1044.6" cy="387.7" r="12.45"/>
<circle class="y" cx="1051.5" cy="411.6" r="12.45"/>
<circle class="d" cx="1058.4" cy="435.5" r="12.45"/>
<circle class="d" cx="1065.3" cy="459.4" r="12.45"/>
<circle class="b" cx="1078.6" cy="507.2" r="12.45"/>
<circle class="a" cx="1085.2" cy="531.2" r="12.45"/>
<circle class="d" cx="1065.9" cy="334.5" r="12.45"/>
<circle class="e" cx="1072.5" cy="358.5" r="12.45"/>
<circle class="y" cx="1079" cy="382.5" r="12.45"/>
<circle class="e" cx="1085.6" cy="406.5" r="12.45"/>
<circle class="d" cx="1092.2" cy="430.5" r="12.45"/>
<circle class="c" cx="1105.1" cy="478.3" r="12.45"/>
<circle class="a" cx="1111.5" cy="502" r="12.45"/>
<circle class="a" cx="1117.8" cy="525.7" r="12.45"/>
<circle class="b" cx="1124.1" cy="549.3" r="12.45"/>
<circle class="a" cx="1130.5" cy="573" r="12.45"/>
<circle class="c" cx="1102.4" cy="329" r="12.45"/>
<circle class="f" cx="1108.7" cy="353" r="12.45"/>
<circle class="f" cx="1114.9" cy="377" r="12.45"/>
<circle class="f" cx="1121.2" cy="401" r="12.45"/>
<circle class="e" cx="1127.4" cy="425" r="12.45"/>
<circle class="e" cx="1133.7" cy="449" r="12.45"/>
<circle class="b" cx="1139.9" cy="473" r="12.45"/>
<circle class="b" cx="1146.2" cy="497" r="12.45"/>
<circle class="b" cx="1152.4" cy="521" r="12.45"/>
<circle class="b" cx="1158.7" cy="545" r="12.45"/>
<circle class="c" cx="1164.9" cy="569" r="12.45"/>
<circle class="e" cx="1142.1" cy="324" r="12.45"/>
<circle class="e" cx="1148.1" cy="348" r="12.45"/>
<circle class="d" cx="1154.1" cy="372" r="12.45"/>
<circle class="c" cx="1166.2" cy="420.1" r="12.45"/>
<circle class="g" cx="1172.2" cy="444.1" r="12.45"/>
<circle class="g" cx="1178.2" cy="468.2" r="12.45"/>
<circle class="g" cx="1184.2" cy="492.2" r="12.45"/>
<circle class="p" cx="1190.2" cy="516.2" r="12.45"/>
<circle class="a" cx="1201.8" cy="564" r="12.45"/>
<circle class="f" cx="1184.2" cy="318.4" r="12.45"/>
<circle class="g" cx="1190" cy="342.5" r="12.45"/>
<circle class="d" cx="1195.9" cy="366.5" r="12.45"/>
<circle class="d" cx="1201.8" cy="390.6" r="12.45"/>
<circle class="f" cx="1207.6" cy="414.6" r="12.45"/>
<circle class="y" cx="1213.5" cy="438.7" r="12.45"/>
<circle class="y" cx="1219.4" cy="462.7" r="12.45"/>
<circle class="y" cx="1225.2" cy="486.8" r="12.45"/>
<circle class="o" cx="1231.1" cy="510.8" r="12.45"/>
<circle class="d" cx="1242.3" cy="559.1" r="12.45"/>
<circle class="g" cx="1237.7" cy="336.8" r="12.45"/>
<circle class="b" cx="1243" cy="360.9" r="12.45"/>
<circle class="c" cx="1248.3" cy="384.9" r="12.45"/>
<circle class="e" cx="1253.6" cy="409" r="12.45"/>
<circle class="g" cx="1259.5" cy="432.9" r="12.45"/>
<circle class="g" cx="1265" cy="456.9" r="12.45"/>
<circle class="g" cx="1270.5" cy="480.9" r="12.45"/>
<circle class="g" cx="1275.9" cy="504.9" r="12.45"/>
<circle class="f" cx="1281.4" cy="529" r="12.45"/>
<circle class="d" cx="1286.9" cy="553" r="12.45"/>
<circle class="e" cx="1292.4" cy="577" r="12.45"/>
<circle class="e" cx="1290.3" cy="331.1" r="12.45"/>
<circle class="b" cx="1295.5" cy="355.3" r="12.45"/>
<circle class="a" cx="1300.6" cy="379.4" r="12.45"/>
<circle class="b" cx="1305.7" cy="403.6" r="12.45"/>
<circle class="f" cx="1316.1" cy="451.4" r="12.45"/>
<circle class="g" cx="1321.3" cy="475.6" r="12.45"/>
<circle class="d" cx="1326.5" cy="499.7" r="12.45"/>
<circle class="b" cx="1331.6" cy="523.8" r="12.45"/>
<circle class="d" cx="1336.8" cy="547.9" r="12.45"/>
<circle class="e" cx="1342" cy="572" r="12.45"/>
<circle class="d" cx="1350.4" cy="325.8" r="12.45"/>
<circle class="b" cx="1355.3" cy="350.1" r="12.45"/>
<circle class="c" cx="1360.1" cy="374.3" r="12.45"/>
<circle class="a" cx="1369.9" cy="422.1" r="12.45"/>
<circle class="b" cx="1374.7" cy="446.2" r="12.45"/>
<circle class="e" cx="1379.5" cy="470.3" r="12.45"/>
<circle class="f" cx="1384.3" cy="494.4" r="12.45"/>
<circle class="d" cx="1389" cy="518.4" r="12.45"/>
<circle class="d" cx="1393.8" cy="542.5" r="12.45"/>
<circle class="f" cx="1421.3" cy="320.9" r="12.45"/>
<circle class="e" cx="1429.9" cy="368.3" r="12.45"/>
<circle class="d" cx="1434.2" cy="392.3" r="12.45"/>
<circle class="d" cx="1438.5" cy="416.3" r="12.45"/>
<circle class="a" cx="1442.9" cy="440.3" r="12.45"/>
<circle class="a" cx="1447.2" cy="464.3" r="12.45"/>
<circle class="e" cx="1451.5" cy="488.2" r="12.45"/>
<circle class="e" cx="1455.8" cy="512.2" r="12.45"/>
<circle class="e" cx="1465.2" cy="560.1" r="12.45"/>
<circle class="e" cx="1480.7" cy="326.9" r="12.45"/>
<circle class="f" cx="1510.6" cy="338.8" r="12.45"/>
<circle class="e" cx="1514.3" cy="362.8" r="12.45"/>
<circle class="d" cx="1518" cy="386.8" r="12.45"/>
<circle class="a" cx="1521.6" cy="410.8" r="12.45"/>
<circle class="c" cx="1525.3" cy="434.8" r="12.45"/>
<circle class="a" cx="1529" cy="458.8" r="12.45"/>
<circle class="f" cx="1537.3" cy="506.2" r="12.45"/>
<circle class="d" cx="1541.4" cy="530.2" r="12.45"/>
<circle class="d" cx="1545.4" cy="554.1" r="12.45"/>
<circle class="e" cx="1549.5" cy="578" r="12.45"/>
<circle class="a" cx="1573.6" cy="326.7" r="12.45"/>
<circle class="d" cx="1585.4" cy="349.4" r="12.45"/>
<circle class="e" cx="1597.1" cy="372.1" r="12.45"/>
<circle class="g" cx="1608.9" cy="394.8" r="12.45"/>
<circle class="o" cx="1620.6" cy="417.6" r="12.45"/>
<circle class="c" cx="1543.3" cy="438.5" r="12.45"/>
<circle class="e" cx="1554.5" cy="461.4" r="12.45"/>
<circle class="g" cx="1565.8" cy="484.3" r="12.45"/>
<circle class="m" cx="1588.2" cy="530.2" r="12.45"/>
<circle class="g" cx="1599.4" cy="553.1" r="12.45"/>
<circle class="y" cx="1610.7" cy="576" r="12.45"/>
<circle class="e" cx="1247.9" cy="582.6" r="12.45"/>
<circle class="c" cx="1651.7" cy="331" r="12.45"/>
<circle class="d" cx="1662.6" cy="354" r="12.45"/>
<circle class="c" cx="1673.4" cy="377" r="12.45"/>
<circle class="p" cx="1684.3" cy="400" r="12.45"/>
<circle class="m" cx="1695.2" cy="423" r="12.45"/>
<circle class="a" cx="1706" cy="446.1" r="12.45"/>
<circle class="r" cx="1716.9" cy="469.1" r="12.45"/>
<circle class="m" cx="1727.8" cy="492.1" r="12.45"/>
<circle class="r" cx="1738.6" cy="515.1" r="12.45"/>
<circle class="o" cx="1749.5" cy="538.1" r="12.45"/>
<circle class="m" cx="1770.4" cy="584" r="12.45"/>
<circle class="o" cx="1631.3" cy="440.7" r="12.45"/>
<circle class="y" cx="1642.4" cy="463.5" r="12.45"/>
<circle class="m" cx="1653.4" cy="486.3" r="12.45"/>
<circle class="y" cx="1675.3" cy="532.2" r="12.45"/>
<circle class="y" cx="1686.2" cy="555.1" r="12.45"/>
<circle class="r" cx="1697.1" cy="578" r="12.45"/>
<circle class="c" cx="1710.2" cy="315.9" r="12.45"/>
<circle class="e" cx="1731.5" cy="361.7" r="12.45"/>
<circle class="g" cx="1742.4" cy="385" r="12.45"/>
<circle class="o" cx="1753.2" cy="408.3" r="12.45"/>
<circle class="r" cx="1764" cy="431.5" r="12.45"/>
<circle class="r" cx="1785" cy="477.3" r="12.45"/>
<circle class="r" cx="1795" cy="500.5" r="12.45"/>
<circle class="y" cx="1805.1" cy="523.7" r="12.45"/>
<circle class="p" cx="1815.1" cy="546.9" r="12.45"/>
<circle class="m" cx="1825.2" cy="570" r="12.45"/>
<circle class="g" cx="1772.1" cy="326.2" r="12.45"/>
<circle class="g" cx="1782.7" cy="349.5" r="12.45"/>
<circle class="y" cx="1793.3" cy="372.7" r="12.45"/>
<circle class="g" cx="1813.9" cy="419.1" r="12.45"/>
<circle class="o" cx="1823.7" cy="442.3" r="12.45"/>
<circle class="p" cx="1833.6" cy="465.5" r="12.45"/>
<circle class="p" cx="1843.4" cy="488.6" r="12.45"/>
<circle class="g" cx="1853.3" cy="511.8" r="12.45"/>
<circle class="o" cx="1863.2" cy="534.9" r="12.45"/>
<circle class="p" cx="1873" cy="558.1" r="12.45"/>
<circle class="p" cx="1882.6" cy="581.4" r="12.45"/>
<circle class="o" cx="1817.4" cy="315.3" r="12.45"/>
<circle class="o" cx="1827.6" cy="338.5" r="12.45"/>
<circle class="o" cx="1837.8" cy="361.8" r="12.45"/>
<circle class="o" cx="1847.9" cy="385" r="12.45"/>
<circle class="p" cx="1858.1" cy="408.3" r="12.45"/>
<circle class="p" cx="1868.3" cy="431.6" r="12.45"/>
<circle class="r" cx="1878.4" cy="454.8" r="12.45"/>
<circle class="o" cx="1897.6" cy="502.3" r="12.45"/>
<circle class="o" cx="1906.9" cy="525.4" r="12.45"/>
<circle class="p" cx="1916.2" cy="548.5" r="12.45"/>
<circle class="o" cx="1925.5" cy="571.6" r="12.45"/>
<circle class="o" cx="1869.7" cy="327.7" r="12.45"/>
<circle class="o" cx="1879.6" cy="351.4" r="12.45"/>
<circle class="p" cx="1889.6" cy="375.1" r="12.45"/>
<circle class="p" cx="1909.3" cy="421.5" r="12.45"/>
<circle class="p" cx="1918.5" cy="445.1" r="12.45"/>
<circle class="p" cx="1927.7" cy="468.7" r="12.45"/>
<circle class="r" cx="1936.8" cy="492.3" r="12.45"/>
<circle class="p" cx="1907.4" cy="319.6" r="12.45"/>
<circle class="o" cx="1916.9" cy="343.3" r="12.45"/>
<circle class="o" cx="1926.4" cy="367" r="12.45"/>
<circle class="p" cx="1935.8" cy="390.6" r="12.45"/>
<circle class="f" cx="152.1" cy="586" r="12.45"/>
<circle class="g" cx="156.3" cy="610" r="12.45"/>
<circle class="f" cx="160.5" cy="634" r="12.45"/>
<circle class="e" cx="164.6" cy="658" r="12.45"/>
<circle class="e" cx="168.8" cy="682" r="12.45"/>
<circle class="e" cx="234.8" cy="603.3" r="12.45"/>
<circle class="f" cx="239" cy="627.8" r="12.45"/>
<circle class="o" cx="303" cy="601.3" r="12.45"/>
<circle class="g" cx="323.9" cy="646.7" r="12.45"/>
<circle class="f" cx="334.3" cy="669.6" r="12.45"/>
<circle class="e" cx="344.8" cy="692.5" r="12.45"/>
<circle class="g" cx="389.4" cy="603.1" r="12.45"/>
<circle class="g" cx="399.6" cy="626.4" r="12.45"/>
<circle class="e" cx="419.6" cy="672.6" r="12.45"/>
<circle class="g" cx="429.2" cy="695.8" r="12.45"/>
<circle class="g" cx="438.9" cy="718.9" r="12.45"/>
<circle class="g" cx="448.6" cy="742.1" r="12.45"/>
<circle class="f" cx="458.2" cy="765.3" r="12.45"/>
<circle class="y" cx="452.4" cy="586.9" r="12.45"/>
<circle class="g" cx="462.3" cy="610.1" r="12.45"/>
<circle class="g" cx="472.1" cy="633.2" r="12.45"/>
<circle class="o" cx="481.9" cy="656.4" r="12.45"/>
<circle class="o" cx="491.7" cy="679.6" r="12.45"/>
<circle class="y" cx="526.9" cy="619.2" r="12.45"/>
<circle class="e" cx="535.9" cy="642.5" r="12.45"/>
<circle class="d" cx="545" cy="665.7" r="12.45"/>
<circle class="f" cx="554.1" cy="689" r="12.45"/>
<circle class="y" cx="563.1" cy="712.3" r="12.45"/>
<circle class="g" cx="572.2" cy="735.6" r="12.45"/>
<circle class="y" cx="581.3" cy="758.9" r="12.45"/>
<circle class="r" cx="590.3" cy="782.1" r="12.45"/>
<circle class="y" cx="599.4" cy="805.4" r="12.45"/>
<circle class="g" cx="608.5" cy="828.7" r="12.45"/>
<circle class="g" cx="617.6" cy="852" r="12.45"/>
<circle class="f" cx="574.4" cy="608.2" r="12.45"/>
<circle class="e" cx="583.5" cy="631.4" r="12.45"/>
<circle class="f" cx="592.5" cy="654.7" r="12.45"/>
<circle class="e" cx="601.6" cy="678" r="12.45"/>
<circle class="e" cx="619.9" cy="725.4" r="12.45"/>
<circle class="d" cx="628.6" cy="748.9" r="12.45"/>
<circle class="f" cx="637.2" cy="772.3" r="12.45"/>
<circle class="p" cx="645.9" cy="795.8" r="12.45"/>
<circle class="g" cx="663" cy="843" r="12.45"/>
<circle class="d" cx="617.3" cy="597.5" r="12.45"/>
<circle class="y" cx="626" cy="621" r="12.45"/>
<circle class="g" cx="634.7" cy="644.6" r="12.45"/>
<circle class="y" cx="643.5" cy="668.1" r="12.45"/>
<circle class="g" cx="652.2" cy="691.7" r="12.45"/>
<circle class="e" cx="660.9" cy="715.2" r="12.45"/>
<circle class="e" cx="669.6" cy="738.7" r="12.45"/>
<circle class="d" cx="678.3" cy="762.3" r="12.45"/>
<circle class="o" cx="695.3" cy="809.1" r="12.45"/>
<circle class="o" cx="703.7" cy="833" r="12.45"/>
<circle class="d" cx="656.4" cy="588.9" r="12.45"/>
<circle class="f" cx="665" cy="612.4" r="12.45"/>
<circle class="f" cx="673.6" cy="635.9" r="12.45"/>
<circle class="g" cx="682.1" cy="659.5" r="12.45"/>
<circle class="g" cx="690.7" cy="683" r="12.45"/>
<circle class="f" cx="699.3" cy="706.5" r="12.45"/>
<circle class="f" cx="716.2" cy="753.3" r="12.45"/>
<circle class="m" cx="724.4" cy="776.7" r="12.45"/>
<circle class="g" cx="732.7" cy="800.2" r="12.45"/>
<circle class="o" cx="740.9" cy="823.6" r="12.45"/>
<circle class="r" cx="749.1" cy="847" r="12.45"/>
<circle class="d" cx="701.5" cy="603.6" r="12.45"/>
<circle class="d" cx="709.7" cy="627.2" r="12.45"/>
<circle class="f" cx="717.9" cy="650.9" r="12.45"/>
<circle class="e" cx="726.1" cy="674.5" r="12.45"/>
<circle class="e" cx="734.3" cy="698.2" r="12.45"/>
<circle class="d" cx="742.5" cy="721.8" r="12.45"/>
<circle class="e" cx="750.7" cy="745.4" r="12.45"/>
<circle class="g" cx="758.9" cy="769.1" r="12.45"/>
<circle class="e" cx="767.2" cy="792.7" r="12.45"/>
<circle class="g" cx="775.4" cy="816.4" r="12.45"/>
<circle class="y" cx="783.6" cy="840" r="12.45"/>
<circle class="a" cx="735" cy="596.4" r="12.45"/>
<circle class="f" cx="751.5" cy="644" r="12.45"/>
<circle class="d" cx="759.7" cy="667.9" r="12.45"/>
<circle class="d" cx="767.9" cy="691.7" r="12.45"/>
<circle class="f" cx="776.1" cy="715.5" r="12.45"/>
<circle class="e" cx="784.4" cy="739.4" r="12.45"/>
<circle class="g" cx="799.9" cy="786.2" r="12.45"/>
<circle class="d" cx="807.9" cy="809.6" r="12.45"/>
<circle class="d" cx="815.9" cy="833" r="12.45"/>
<circle class="c" cx="766.6" cy="589.9" r="12.45"/>
<circle class="d" cx="774.8" cy="613.8" r="12.45"/>
<circle class="b" cx="783" cy="637.7" r="12.45"/>
<circle class="b" cx="798.9" cy="685.2" r="12.45"/>
<circle class="d" cx="806.9" cy="708.5" r="12.45"/>
<circle class="o" cx="822.4" cy="756.3" r="12.45"/>
<circle class="g" cx="830.6" cy="779.7" r="12.45"/>
<circle class="d" cx="838.8" cy="803.1" r="12.45"/>
<circle class="b" cx="804.9" cy="603.8" r="12.45"/>
<circle class="b" cx="812.9" cy="627.8" r="12.45"/>
<circle class="b" cx="820.8" cy="651.7" r="12.45"/>
<circle class="c" cx="828.8" cy="675.6" r="12.45"/>
<circle class="g" cx="844.4" cy="726.4" r="12.45"/>
<circle class="p" cx="851.8" cy="750.1" r="12.45"/>
<circle class="g" cx="859.3" cy="773.9" r="12.45"/>
<circle class="e" cx="866.7" cy="797.6" r="12.45"/>
<circle class="e" cx="874.2" cy="821.3" r="12.45"/>
<circle class="e" cx="881.6" cy="845" r="12.45"/>
<circle class="c" cx="835.1" cy="600.7" r="12.45"/>
<circle class="b" cx="842.7" cy="624.9" r="12.45"/>
<circle class="a" cx="850.3" cy="649.1" r="12.45"/>
<circle class="b" cx="865.7" cy="696.9" r="12.45"/>
<circle class="d" cx="873.2" cy="720.6" r="12.45"/>
<circle class="e" cx="880.6" cy="744.4" r="12.45"/>
<circle class="c" cx="863.3" cy="594.9" r="12.45"/>
<circle class="a" cx="878.6" cy="643.7" r="12.45"/>
<circle class="a" cx="885.6" cy="667.6" r="12.45"/>
<circle class="p" cx="510.9" cy="725.4" r="12.45"/>
<circle class="o" cx="520.1" cy="748.8" r="12.45"/>
<circle class="o" cx="529.4" cy="772.3" r="12.45"/>
<circle class="g" cx="538.6" cy="795.7" r="12.45"/>
<circle class="g" cx="547.8" cy="819.1" r="12.45"/>
<circle class="g" cx="895.5" cy="792.4" r="12.45"/>
<circle class="f" cx="902.9" cy="816.1" r="12.45"/>
<circle class="a" cx="893.7" cy="691.5" r="12.45"/>
<circle class="e" cx="901.1" cy="715.5" r="12.45"/>
<circle class="g" cx="908.4" cy="739.4" r="12.45"/>
<circle class="g" cx="915.8" cy="763.3" r="12.45"/>
<circle class="f" cx="929.8" cy="811.1" r="12.45"/>
<circle class="y" cx="936.7" cy="835" r="12.45"/>
<circle class="c" cx="919" cy="585.8" r="12.45"/>
<circle class="c" cx="926.2" cy="609.7" r="12.45"/>
<circle class="c" cx="933.3" cy="633.5" r="12.45"/>
<circle class="c" cx="940.5" cy="657.3" r="12.45"/>
<circle class="c" cx="947.7" cy="681.2" r="12.45"/>
<circle class="a" cx="962" cy="728.4" r="12.45"/>
<circle class="g" cx="969" cy="752.8" r="12.45"/>
<circle class="d" cx="976" cy="777.2" r="12.45"/>
<circle class="f" cx="989.9" cy="824.1" r="12.45"/>
<circle class="f" cx="996.5" cy="847" r="12.45"/>
<circle class="d" cx="897.9" cy="613.8" r="12.45"/>
<circle class="b" cx="905.5" cy="638" r="12.45"/>
<circle class="b" cx="913.1" cy="662.1" r="12.45"/>
<circle class="c" cx="920.7" cy="686.3" r="12.45"/>
<circle class="b" cx="928.4" cy="710.5" r="12.45"/>
<circle class="a" cx="942.3" cy="757.3" r="12.45"/>
<circle class="o" cx="949.4" cy="781.2" r="12.45"/>
<circle class="e" cx="956.5" cy="805.1" r="12.45"/>
<circle class="f" cx="963.6" cy="829.1" r="12.45"/>
<circle class="e" cx="970.6" cy="852.6" r="12.45"/>
<circle class="a" cx="952.7" cy="603.8" r="12.45"/>
<circle class="d" cx="967.6" cy="651.7" r="12.45"/>
<circle class="a" cx="982" cy="700.5" r="12.45"/>
<circle class="c" cx="988.6" cy="724.4" r="12.45"/>
<circle class="f" cx="1002.1" cy="771.3" r="12.45"/>
<circle class="d" cx="1009.1" cy="795.2" r="12.45"/>
<circle class="e" cx="1016.1" cy="819.1" r="12.45"/>
<circle class="a" cx="980.9" cy="597.9" r="12.45"/>
<circle class="c" cx="987.6" cy="622.8" r="12.45"/>
<circle class="a" cx="1001.9" cy="670.6" r="12.45"/>
<circle class="a" cx="1015.9" cy="718.4" r="12.45"/>
<circle class="e" cx="1022.5" cy="742.4" r="12.45"/>
<circle class="g" cx="1029.1" cy="766.3" r="12.45"/>
<circle class="e" cx="1035.8" cy="790.2" r="12.45"/>
<circle class="f" cx="1049.3" cy="838" r="12.45"/>
<circle class="d" cx="1023.4" cy="641.7" r="12.45"/>
<circle class="b" cx="1030" cy="665.9" r="12.45"/>
<circle class="a" cx="1036.6" cy="690" r="12.45"/>
<circle class="a" cx="1043.2" cy="714.2" r="12.45"/>
<circle class="c" cx="1049.7" cy="738.4" r="12.45"/>
<circle class="d" cx="1062.9" cy="785.2" r="12.45"/>
<circle class="d" cx="1069.6" cy="809.1" r="12.45"/>
<circle class="d" cx="1076.2" cy="833" r="12.45"/>
<circle class="f" cx="1083.2" cy="855" r="12.45"/>
<circle class="a" cx="1038" cy="589.1" r="12.45"/>
<circle class="c" cx="1044.6" cy="613.2" r="12.45"/>
<circle class="d" cx="1051.1" cy="637.3" r="12.45"/>
<circle class="a" cx="1057.7" cy="661.4" r="12.45"/>
<circle class="a" cx="1064.3" cy="685.6" r="12.45"/>
<circle class="f" cx="1083.8" cy="756.3" r="12.45"/>
<circle class="c" cx="1090.4" cy="780.6" r="12.45"/>
<circle class="e" cx="1097" cy="804.8" r="12.45"/>
<circle class="f" cx="1103.5" cy="829.1" r="12.45"/>
<circle class="f" cx="1109.5" cy="852" r="12.45"/>
<circle class="a" cx="1067.8" cy="585.7" r="12.45"/>
<circle class="a" cx="1074.3" cy="609.4" r="12.45"/>
<circle class="c" cx="1080.8" cy="633.1" r="12.45"/>
<circle class="a" cx="1087.3" cy="656.9" r="12.45"/>
<circle class="c" cx="1093.8" cy="680.6" r="12.45"/>
<circle class="a" cx="1106.1" cy="728.4" r="12.45"/>
<circle class="d" cx="1112.4" cy="752.3" r="12.45"/>
<circle class="d" cx="1118.8" cy="776.2" r="12.45"/>
<circle class="g" cx="1125.1" cy="800.2" r="12.45"/>
<circle class="g" cx="1137.6" cy="848" r="12.45"/>
<circle class="a" cx="1098.2" cy="578.9" r="12.45"/>
<circle class="a" cx="1104.4" cy="603.3" r="12.45"/>
<circle class="a" cx="1110.7" cy="627.8" r="12.45"/>
<circle class="b" cx="1124.1" cy="675.6" r="12.45"/>
<circle class="c" cx="1130.2" cy="699.7" r="12.45"/>
<circle class="a" cx="1136.4" cy="723.8" r="12.45"/>
<circle class="b" cx="1142.5" cy="747.8" r="12.45"/>
<circle class="c" cx="1148.7" cy="771.9" r="12.45"/>
<circle class="g" cx="1154.8" cy="796" r="12.45"/>
<circle class="y" cx="1160.9" cy="820.1" r="12.45"/>
<circle class="c" cx="1136.6" cy="598.9" r="12.45"/>
<circle class="a" cx="1149.4" cy="646.7" r="12.45"/>
<circle class="a" cx="1155.4" cy="670.8" r="12.45"/>
<circle class="b" cx="1161.4" cy="694.9" r="12.45"/>
<circle class="d" cx="1167.4" cy="719" r="12.45"/>
<circle class="c" cx="1173.5" cy="743.2" r="12.45"/>
<circle class="g" cx="1179.5" cy="767.3" r="12.45"/>
<circle class="y" cx="1191.4" cy="815.1" r="12.45"/>
<circle class="o" cx="1197.4" cy="839" r="12.45"/>
<circle class="b" cx="1170.9" cy="593.9" r="12.45"/>
<circle class="f" cx="1182.9" cy="641.7" r="12.45"/>
<circle class="b" cx="1189" cy="665.6" r="12.45"/>
<circle class="b" cx="1195.1" cy="689.5" r="12.45"/>
<circle class="b" cx="1201.3" cy="713.5" r="12.45"/>
<circle class="f" cx="1207.4" cy="737.4" r="12.45"/>
<circle class="f" cx="1218.7" cy="786.2" r="12.45"/>
<circle class="o" cx="1224.2" cy="810.1" r="12.45"/>
<circle class="y" cx="1229.7" cy="834" r="12.45"/>
<circle class="d" cx="1207.6" cy="588.1" r="12.45"/>
<circle class="c" cx="1213.4" cy="612.2" r="12.45"/>
<circle class="d" cx="1219.2" cy="636.2" r="12.45"/>
<circle class="c" cx="1225.1" cy="660.3" r="12.45"/>
<circle class="f" cx="1230.9" cy="684.4" r="12.45"/>
<circle class="g" cx="1236.7" cy="708.5" r="12.45"/>
<circle class="g" cx="1247.6" cy="756.3" r="12.45"/>
<circle class="o" cx="1253.4" cy="780.2" r="12.45"/>
<circle class="e" cx="1253.6" cy="607.2" r="12.45"/>
<circle class="e" cx="1259.2" cy="631.4" r="12.45"/>
<circle class="d" cx="1264.9" cy="655.7" r="12.45"/>
<circle class="f" cx="1275.8" cy="703.1" r="12.45"/>
<circle class="o" cx="1281.3" cy="727.1" r="12.45"/>
<circle class="o" cx="1286.8" cy="751.1" r="12.45"/>
<circle class="o" cx="1292.3" cy="775" r="12.45"/>
<circle class="o" cx="1297.8" cy="799" r="12.45"/>
<circle class="o" cx="1303.2" cy="823" r="12.45"/>
<circle class="o" cx="1308.7" cy="847" r="12.45"/>
<circle class="o" cx="1259.4" cy="804.8" r="12.45"/>
<circle class="p" cx="1265.3" cy="829.1" r="12.45"/>
<circle class="y" cx="1270.9" cy="853" r="12.45"/>
<circle class="f" cx="1297.6" cy="601.7" r="12.45"/>
<circle class="e" cx="1302.9" cy="625.9" r="12.45"/>
<circle class="e" cx="1308.1" cy="650.1" r="12.45"/>
<circle class="d" cx="1319.1" cy="697.9" r="12.45"/>
<circle class="g" cx="1324.3" cy="722" r="12.45"/>
<circle class="y" cx="1329.5" cy="746.1" r="12.45"/>
<circle class="y" cx="1334.8" cy="770.3" r="12.45"/>
<circle class="o" cx="1340" cy="794.4" r="12.45"/>
<circle class="o" cx="1345.2" cy="818.5" r="12.45"/>
<circle class="f" cx="1352" cy="619.8" r="12.45"/>
<circle class="f" cx="1357.1" cy="644" r="12.45"/>
<circle class="f" cx="1362.1" cy="668.2" r="12.45"/>
<circle class="f" cx="1367.2" cy="692.3" r="12.45"/>
<circle class="y" cx="1372.3" cy="716.5" r="12.45"/>
<circle class="g" cx="1377.4" cy="740.7" r="12.45"/>
<circle class="y" cx="1382.5" cy="764.9" r="12.45"/>
<circle class="g" cx="1403.4" cy="590.5" r="12.45"/>
<circle class="g" cx="1408.2" cy="614.6" r="12.45"/>
<circle class="f" cx="1413" cy="638.6" r="12.45"/>
<circle class="f" cx="1417.7" cy="662.7" r="12.45"/>
<circle class="g" cx="1422.5" cy="686.8" r="12.45"/>
<circle class="g" cx="1427.3" cy="710.9" r="12.45"/>
<circle class="y" cx="1436.9" cy="758.3" r="12.45"/>
<circle class="g" cx="1441.5" cy="782.4" r="12.45"/>
<circle class="g" cx="1446.2" cy="806.4" r="12.45"/>
<circle class="e" cx="1450.8" cy="830.5" r="12.45"/>
<circle class="e" cx="1455.6" cy="854.6" r="12.45"/>
<circle class="o" cx="1392.4" cy="812.1" r="12.45"/>
<circle class="g" cx="1397.4" cy="836" r="12.45"/>
<circle class="f" cx="1469.6" cy="584.1" r="12.45"/>
<circle class="e" cx="1473.9" cy="608.2" r="12.45"/>
<circle class="e" cx="1478.3" cy="632.3" r="12.45"/>
<circle class="y" cx="1482.7" cy="656.5" r="12.45"/>
<circle class="o" cx="1487.1" cy="680.6" r="12.45"/>
<circle class="g" cx="1495.7" cy="728.4" r="12.45"/>
<circle class="g" cx="1500.1" cy="752.3" r="12.45"/>
<circle class="y" cx="1504.6" cy="776.2" r="12.45"/>
<circle class="g" cx="1509.1" cy="800.2" r="12.45"/>
<circle class="o" cx="1513.5" cy="824.1" r="12.45"/>
<circle class="g" cx="1518" cy="848" r="12.45"/>
<circle class="g" cx="1553.3" cy="602" r="12.45"/>
<circle class="y" cx="1557.1" cy="626" r="12.45"/>
<circle class="o" cx="1560.8" cy="650.1" r="12.45"/>
<circle class="y" cx="1568.8" cy="697.5" r="12.45"/>
<circle class="y" cx="1572.9" cy="721.4" r="12.45"/>
<circle class="y" cx="1577" cy="745.4" r="12.45"/>
<circle class="y" cx="1581.1" cy="769.3" r="12.45"/>
<circle class="o" cx="1585.2" cy="793.2" r="12.45"/>
<circle class="o" cx="1593.7" cy="841" r="12.45"/>
<circle class="p" cx="1620.6" cy="598.9" r="12.45"/>
<circle class="r" cx="1631.3" cy="621.8" r="12.45"/>
<circle class="r" cx="1641.7" cy="644.7" r="12.45"/>
<circle class="r" cx="1652" cy="667.6" r="12.45"/>
<circle class="r" cx="1662.4" cy="690.5" r="12.45"/>
<circle class="m" cx="1672.7" cy="713.5" r="12.45"/>
<circle class="p" cx="1692.7" cy="758.7" r="12.45"/>
<circle class="p" cx="1702.4" cy="781.7" r="12.45"/>
<circle class="p" cx="1712.1" cy="804.6" r="12.45"/>
<circle class="p" cx="1721.8" cy="827.6" r="12.45"/>
<circle class="m" cx="1731.5" cy="850.6" r="12.45"/>
<circle class="m" cx="1707.3" cy="601.1" r="12.45"/>
<circle class="m" cx="1717.6" cy="624.2" r="12.45"/>
<circle class="m" cx="1737.5" cy="670.2" r="12.45"/>
<circle class="m" cx="1747.1" cy="693.3" r="12.45"/>
<circle class="m" cx="1756.8" cy="716.5" r="12.45"/>
<circle class="m" cx="1766.4" cy="739.6" r="12.45"/>
<circle class="r" cx="1776" cy="762.7" r="12.45"/>
<circle class="m" cx="1794.7" cy="809.1" r="12.45"/>
<circle class="y" cx="1804.3" cy="832" r="12.45"/>
<circle class="m" cx="1780.2" cy="607.4" r="12.45"/>
<circle class="m" cx="1790.1" cy="630.8" r="12.45"/>
<circle class="m" cx="1799.9" cy="654.3" r="12.45"/>
<circle class="m" cx="1819.2" cy="700.5" r="12.45"/>
<circle class="m" cx="1828.4" cy="723.8" r="12.45"/>
<circle class="m" cx="1837.5" cy="747" r="12.45"/>
<circle class="r" cx="1846.6" cy="770.3" r="12.45"/>
<circle class="y" cx="1855.8" cy="793.5" r="12.45"/>
<circle class="y" cx="1864.9" cy="816.8" r="12.45"/>
<circle class="g" cx="1874" cy="840" r="12.45"/>
<circle class="m" cx="1844.1" cy="617.2" r="12.45"/>
<circle class="m" cx="1853.4" cy="640.6" r="12.45"/>
<circle class="m" cx="1862.6" cy="664" r="12.45"/>
<circle class="m" cx="1871.8" cy="687.5" r="12.45"/>
<circle class="m" cx="1881" cy="710.9" r="12.45"/>
<circle class="y" cx="1899.6" cy="757.3" r="12.45"/>
<circle class="y" cx="1908.3" cy="780.6" r="12.45"/>
<circle class="r" cx="1891.6" cy="604.8" r="12.45"/>
<circle class="m" cx="1900.7" cy="628.4" r="12.45"/>
<circle class="r" cx="1909.7" cy="651.9" r="12.45"/>
<circle class="r" cx="1918.8" cy="675.4" r="12.45"/>
<circle class="o" cx="1927.8" cy="698.9" r="12.45"/>
<circle class="o" cx="1936.8" cy="722.4" r="12.45"/>
<circle class="g" cx="625.5" cy="877.1" r="12.45"/>
<circle class="g" cx="671.2" cy="866.5" r="12.45"/>
<circle class="g" cx="679.3" cy="889.7" r="12.45"/>
<circle class="y" cx="711.6" cy="857.1" r="12.45"/>
<circle class="g" cx="719.8" cy="880.7" r="12.45"/>
<circle class="g" cx="756.5" cy="872.1" r="12.45"/>
<circle class="e" cx="764.5" cy="895.8" r="12.45"/>
<circle class="f" cx="772.4" cy="919.5" r="12.45"/>
<circle class="p" cx="791.1" cy="864.4" r="12.45"/>
<circle class="o" cx="798.7" cy="888.2" r="12.45"/>
<circle class="y" cx="806.3" cy="912" r="12.45"/>
<circle class="g" cx="823" cy="856.8" r="12.45"/>
<circle class="y" cx="830.6" cy="880.7" r="12.45"/>
<circle class="y" cx="838.2" cy="904.6" r="12.45"/>
<circle class="g" cx="845.8" cy="928.5" r="12.45"/>
<circle class="f" cx="853.7" cy="850.8" r="12.45"/>
<circle class="y" cx="861.1" cy="874.7" r="12.45"/>
<circle class="y" cx="876" cy="921.9" r="12.45"/>
<circle class="o" cx="896.9" cy="892" r="12.45"/>
<circle class="f" cx="903.8" cy="916" r="12.45"/>
<circle class="y" cx="917.8" cy="864.7" r="12.45"/>
<circle class="p" cx="924.8" cy="888.4" r="12.45"/>
<circle class="o" cx="931.7" cy="912.1" r="12.45"/>
<circle class="f" cx="938.7" cy="935.7" r="12.45"/>
<circle class="e" cx="945.7" cy="959.4" r="12.45"/>
<circle class="f" cx="944.1" cy="858.8" r="12.45"/>
<circle class="y" cx="958.7" cy="905.6" r="12.45"/>
<circle class="y" cx="965.6" cy="929.5" r="12.45"/>
<circle class="g" cx="972.6" cy="953.4" r="12.45"/>
<circle class="y" cx="977.6" cy="877.1" r="12.45"/>
<circle class="y" cx="991.5" cy="924.5" r="12.45"/>
<circle class="g" cx="1005.1" cy="972.4" r="12.45"/>
<circle class="g" cx="1003.5" cy="871.7" r="12.45"/>
<circle class="o" cx="1017.4" cy="919.5" r="12.45"/>
<circle class="y" cx="1023.9" cy="943.5" r="12.45"/>
<circle class="y" cx="1030.4" cy="967.4" r="12.45"/>
<circle class="o" cx="1036.4" cy="891.6" r="12.45"/>
<circle class="y" cx="1049.9" cy="939.1" r="12.45"/>
<circle class="y" cx="1056.3" cy="963" r="12.45"/>
<circle class="f" cx="1055.9" cy="862.6" r="12.45"/>
<circle class="o" cx="1062.5" cy="886.4" r="12.45"/>
<circle class="o" cx="1069.1" cy="910.1" r="12.45"/>
<circle class="y" cx="1075.6" cy="933.9" r="12.45"/>
<circle class="o" cx="1089.1" cy="881.7" r="12.45"/>
<circle class="y" cx="1095.8" cy="905.6" r="12.45"/>
<circle class="g" cx="1108.1" cy="953.4" r="12.45"/>
<circle class="f" cx="1116.1" cy="877.7" r="12.45"/>
<circle class="o" cx="1128.5" cy="925.5" r="12.45"/>
<circle class="o" cx="1134.7" cy="949.4" r="12.45"/>
<circle class="e" cx="1141" cy="973.4" r="12.45"/>
<circle class="y" cx="1150" cy="896.6" r="12.45"/>
<circle class="y" cx="1156.2" cy="920.4" r="12.45"/>
<circle class="y" cx="1162.3" cy="944.2" r="12.45"/>
<circle class="g" cx="1168.5" cy="968" r="12.45"/>
<circle class="y" cx="1172.9" cy="867.7" r="12.45"/>
<circle class="g" cx="1179" cy="891.6" r="12.45"/>
<circle class="g" cx="1185.1" cy="915.6" r="12.45"/>
<circle class="g" cx="1191.1" cy="939.5" r="12.45"/>
<circle class="g" cx="1197.2" cy="963.4" r="12.45"/>
<circle class="r" cx="1203.4" cy="863.1" r="12.45"/>
<circle class="g" cx="1209.4" cy="887.1" r="12.45"/>
<circle class="o" cx="1215.4" cy="911" r="12.45"/>
<circle class="f" cx="1226.7" cy="958.4" r="12.45"/>
<circle class="y" cx="1236.1" cy="858.2" r="12.45"/>
<circle class="g" cx="1241.9" cy="882.1" r="12.45"/>
<circle class="y" cx="1247.6" cy="906" r="12.45"/>
<circle class="d" cx="1214.8" cy="1036.5" r="12.45"/>
<circle class="g" cx="1319.7" cy="895.6" r="12.45"/>
<circle class="f" cx="1325.1" cy="919.7" r="12.45"/>
<circle class="g" cx="1330.6" cy="943.9" r="12.45"/>
<circle class="e" cx="1336" cy="968" r="12.45"/>
<circle class="g" cx="1276.4" cy="877.3" r="12.45"/>
<circle class="g" cx="1287.8" cy="925.5" r="12.45"/>
<circle class="f" cx="1293.4" cy="949.4" r="12.45"/>
<circle class="g" cx="1259.5" cy="953.4" r="12.45"/>
<circle class="g" cx="1356" cy="866.7" r="12.45"/>
<circle class="d" cx="1361.3" cy="890.6" r="12.45"/>
<circle class="f" cx="1366.6" cy="914.6" r="12.45"/>
<circle class="y" cx="1371.9" cy="938.5" r="12.45"/>
<circle class="d" cx="1382.5" cy="986.9" r="12.45"/>
<circle class="c" cx="1402.4" cy="860.3" r="12.45"/>
<circle class="b" cx="1407.4" cy="884.4" r="12.45"/>
<circle class="e" cx="1412.4" cy="908.6" r="12.45"/>
<circle class="d" cx="1417.3" cy="932.8" r="12.45"/>
<circle class="e" cx="1422.3" cy="956.9" r="12.45"/>
<circle class="y" cx="1427.3" cy="981.1" r="12.45"/>
<circle class="y" cx="1432.3" cy="1005.2" r="12.45"/>
<circle class="e" cx="1470.2" cy="926.9" r="12.45"/>
<circle class="f" cx="1474.9" cy="950.9" r="12.45"/>
<circle class="g" cx="1479.7" cy="975" r="12.45"/>
<circle class="f" cx="1527.6" cy="896.6" r="12.45"/>
<circle class="y" cx="1531.9" cy="920.5" r="12.45"/>
<circle class="g" cx="1536.3" cy="944.5" r="12.45"/>
<circle class="g" cx="1540.7" cy="968.4" r="12.45"/>
<circle class="y" cx="1545.1" cy="992.3" r="12.45"/>
<circle class="g" cx="1549.5" cy="1016.2" r="12.45"/>
<circle class="e" cx="1558.3" cy="1064" r="12.45"/>
<circle class="p" cx="1597.4" cy="865.1" r="12.45"/>
<circle class="y" cx="1601.5" cy="889.1" r="12.45"/>
<circle class="p" cx="1605.5" cy="913" r="12.45"/>
<circle class="p" cx="1609.6" cy="936.9" r="12.45"/>
<circle class="p" cx="1613.7" cy="960.8" r="12.45"/>
<circle class="o" cx="1621.6" cy="1008.2" r="12.45"/>
<circle class="g" cx="1625.6" cy="1032.2" r="12.45"/>
<circle class="g" cx="1629.2" cy="1056.1" r="12.45"/>
<circle class="a" cx="1275.8" cy="1027.2" r="12.45"/>
<circle class="a" cx="1309.7" cy="1021.8" r="12.45"/>
<circle class="f" cx="1315.3" cy="1046.1" r="12.45"/>
<circle class="g" cx="1392.4" cy="1034.1" r="12.45"/>
<circle class="g" cx="1397" cy="1058.1" r="12.45"/>
<circle class="y" cx="1357.6" cy="1064.6" r="12.45"/>
<circle class="p" cx="1750.5" cy="896.6" r="12.45"/>
<circle class="p" cx="1759.4" cy="919.9" r="12.45"/>
<circle class="r" cx="1768.4" cy="943.1" r="12.45"/>
<circle class="r" cx="1777.4" cy="966.3" r="12.45"/>
<circle class="r" cx="1786.3" cy="989.6" r="12.45"/>
<circle class="p" cx="1795.3" cy="1012.8" r="12.45"/>
<circle class="g" cx="1813.5" cy="855.2" r="12.45"/>
<circle class="g" cx="1822.3" cy="878.5" r="12.45"/>
<circle class="o" cx="1831.1" cy="901.9" r="12.45"/>
<circle class="o" cx="1839.9" cy="925.2" r="12.45"/>
<circle class="p" cx="1848.7" cy="948.6" r="12.45"/>
<circle class="r" cx="1857.4" cy="971.9" r="12.45"/>
<circle class="r" cx="1866.2" cy="995.3" r="12.45"/>
<circle class="p" cx="1875" cy="1018.6" r="12.45"/>
<circle class="y" cx="1883" cy="863.7" r="12.45"/>
<circle class="y" cx="1891.5" cy="887.1" r="12.45"/>
<circle class="y" cx="1900" cy="910.4" r="12.45"/>
<circle class="o" cx="1908.4" cy="933.8" r="12.45"/>
<circle class="p" cx="1916.9" cy="957.1" r="12.45"/>
<circle class="p" cx="1925.4" cy="980.5" r="12.45"/>
<circle class="p" cx="1933.8" cy="1003.9" r="12.45"/>
<circle class="y" cx="1941.2" cy="1027.2" r="12.45"/>
<circle class="p" cx="1812.9" cy="1059.1" r="12.45"/>
<circle class="y" cx="1891.6" cy="1064.6" r="12.45"/>
</g>
<polyline fill="none" stroke="#808080" stroke-width="4.1" stroke-linejoin="round" stroke-linecap="round" points="134,197.4 181.8,175.5 193.7,151.5 228.6,145.2 315.3,167.5 318.3,134.6 351.2,123 424.9,146 520,146"/>
<polyline fill="none" stroke="#808080" stroke-width="4.1" stroke-linejoin="round" stroke-linecap="round" points="181.8,175.5 199.7,178.8 142.9,211.9 206.7,234.3 220.6,211.3 246.6,240.2 298.4,249.6 221.6,284.7 179.8,278.1 152.9,269.1 173.8,253.2 155.9,237.2 134,248.2"/>
<polyline fill="none" stroke="#808080" stroke-width="4.1" stroke-linejoin="round" stroke-linecap="round" points="134,291.1 179.8,278.1"/>
<polyline fill="none" stroke="#808080" stroke-width="4.1" stroke-linejoin="round" stroke-linecap="round" points="186.8,284.1 196.7,296"/>
<polyline fill="none" stroke="#808080" stroke-width="4.1" stroke-linejoin="round" stroke-linecap="round" points="331.7,314 381.1,267.1 384.1,264.1 461.8,273.5 488.7,239.2 520,239.2"/>
<polyline fill="none" stroke="#808080" stroke-width="4.1" stroke-linejoin="round" stroke-linecap="round" points="520,146 608.6,146 662.4,177.4 665.4,185"/>
<polyline fill="none" stroke="#808080" stroke-width="4.1" stroke-linejoin="round" stroke-linecap="round" points="520,239.2 551.8,236.8 665.4,185"/>
<polyline fill="none" stroke="#808080" stroke-width="4.1" stroke-linejoin="round" stroke-linecap="round" points="629.5,33.4 643.5,37.9 677.3,45.9 693.3,128.6 659.4,154.5 665.4,185"/>
<polyline fill="none" stroke="#808080" stroke-width="4.1" stroke-linejoin="round" stroke-linecap="round" points="1325.7,33.4 1353.6,36.3 1447.2,68.8 1497.1,150.5 1630,151.5"/>
<polyline fill="none" stroke="#808080" stroke-width="4.1" stroke-linejoin="round" stroke-linecap="round" points="1630,151.5 1727.6,152.5 1835.2,181.4 1943.8,209.3"/>
<polyline fill="none" stroke="#808080" stroke-width="4.1" stroke-linejoin="round" stroke-linecap="round" points="134,315.9 171.8,315.5 209.7,310.5 249.5,332.9 325.3,319.5"/>
<polyline fill="none" stroke="#808080" stroke-width="4.1" stroke-linejoin="round" stroke-linecap="round" points="331.7,314 325.3,319.5 330.3,363.7 385.1,370.7 402,425.5 379.1,431.9 304.4,422.5 220.6,462.4 216.7,399.6 182.8,370.7 134,409.6"/>
<polyline fill="none" stroke="#808080" stroke-width="4.1" stroke-linejoin="round" stroke-linecap="round" points="379.1,431.9 360.2,438.5 369.1,444.5 220.6,473.4 194.7,495.3 218.7,540.1 183.8,573 186.8,584"/>
<polyline fill="none" stroke="#808080" stroke-width="4.1" stroke-linejoin="round" stroke-linecap="round" points="369.1,444.5 436.9,464.4 451.8,508.2 520,519.2"/>
<polyline fill="none" stroke="#808080" stroke-width="4.1" stroke-linejoin="round" stroke-linecap="round" points="336.2,584 337.2,567 489.7,567 520,543.1"/>
<polyline fill="none" stroke="#808080" stroke-width="4.1" stroke-linejoin="round" stroke-linecap="round" points="520,519.2 546.8,522.2 561.7,569 599.6,584"/>
<polyline fill="none" stroke="#808080" stroke-width="4.1" stroke-linejoin="round" stroke-linecap="round" points="520,543.1 537.8,523.6"/>
<polyline fill="none" stroke="#808080" stroke-width="4.1" stroke-linejoin="round" stroke-linecap="round" points="186.8,584 189.8,597.9 134,598.9"/>
<polyline fill="none" stroke="#808080" stroke-width="4.1" stroke-linejoin="round" stroke-linecap="round" points="134,607.8 150.9,635.7 134,641.7"/>
<polyline fill="none" stroke="#808080" stroke-width="4.1" stroke-linejoin="round" stroke-linecap="round" points="336.2,584 335.2,597.9 356.2,602.9 341.2,644.7 409,690.5 371.1,726.4 376.1,754.3 287.6,854"/>
<polyline fill="none" stroke="#808080" stroke-width="4.1" stroke-linejoin="round" stroke-linecap="round" points="599.6,584 596.6,632.7 627.5,667.6 598.6,686.6 567.7,676.6 585.7,740.4 603.6,734.4 702.3,798.2 758.1,791.2 856.7,854"/>
<polyline fill="none" stroke="#808080" stroke-width="4.1" stroke-linejoin="round" stroke-linecap="round" points="702.3,798.2 669.4,821.1 659.4,854"/>
<polyline fill="none" stroke="#808080" stroke-width="4.1" stroke-linejoin="round" stroke-linecap="round" points="287.6,854 231.6,914.6 176.8,927.5 151.9,910.6 134,931.5"/>
<polyline fill="none" stroke="#808080" stroke-width="4.1" stroke-linejoin="round" stroke-linecap="round" points="134,986.3 143.9,988.3 138.9,1017.2 168.8,1032.2 179.8,1067"/>
<polyline fill="none" stroke="#808080" stroke-width="4.1" stroke-linejoin="round" stroke-linecap="round" points="856.7,854 890,873.7"/>
<polyline fill="none" stroke="#808080" stroke-width="4.1" stroke-linejoin="round" stroke-linecap="round" points="659.4,854 654.4,869.7 792.9,938.5 864.7,937.1 890,955.4"/>
<polyline fill="none" stroke="#808080" stroke-width="4.1" stroke-linejoin="round" stroke-linecap="round" points="890,873.7 961.6,917.6 968.6,904.6 1071.3,916.6 1065.3,996.3 919.8,976.3 890,955.4"/>
<polyline fill="none" stroke="#808080" stroke-width="4.1" stroke-linejoin="round" stroke-linecap="round" points="1071.3,916.6 1097.2,906.6 1121.1,973.4 1260,968.4"/>
<polyline fill="none" stroke="#808080" stroke-width="4.1" stroke-linejoin="round" stroke-linecap="round" points="1113.1,945.5 1167.9,895.6 1253.6,914.6 1260,929.5"/>
<polyline fill="none" stroke="#808080" stroke-width="4.1" stroke-linejoin="round" stroke-linecap="round" points="1085.2,983.3 1135,1016.2 1152,1004.3 1160,1053.1 1260,1069"/>
<polyline fill="none" stroke="#808080" stroke-width="4.1" stroke-linejoin="round" stroke-linecap="round" points="1085.2,983.3 1070.3,1024.2 1117.1,1053.1 1093.2,1067"/>
<polyline fill="none" stroke="#808080" stroke-width="4.1" stroke-linejoin="round" stroke-linecap="round" points="1230,909.6 1251.9,914.6 1255.9,922.5 1298.8,919.5 1333.6,878.7 1405.4,843.4 1446.2,858.8 1481.1,836.2 1496.1,844.8 1486.1,864.7 1505,856.8 1511,871.7 1491.1,891.6 1545.9,900.6 1558.8,883.7 1583.8,898.6 1596.7,936.5 1617.6,934.5 1621.6,975.4 1617.6,1022.2 1566.8,1066"/>
<polyline fill="none" stroke="#808080" stroke-width="4.1" stroke-linejoin="round" stroke-linecap="round" points="1260,929.5 1276.8,967.4 1260,968.4"/>
<polyline fill="none" stroke="#808080" stroke-width="4.1" stroke-linejoin="round" stroke-linecap="round" points="1545.9,900.6 1524,932.5 1537.9,958.4 1487.1,950.4 1433.3,983.3 1405.4,1067"/>
<polyline fill="none" stroke="#808080" stroke-width="4.1" stroke-linejoin="round" stroke-linecap="round" points="1260,1069 1269.9,1067"/>
<polyline fill="none" stroke="#000" stroke-width="2.8" stroke-linejoin="round" stroke-linecap="round" points="134,465.4 139.9,465.4 149.9,460.4 157.9,455.4 161.6,448.3 165.8,441.5 168.7,434.7 172.8,428.5 170.6,421 167.8,413.6 159.9,405.6 153.6,403.8 147.9,400.6 144.9,393.6 146,385.7 146.9,377.7 149.7,371.6 152.9,365.7 161.9,359.8 154.9,353.8 144.9,349.2 150.8,346.9 157.2,346.2 163.1,343.9 169.4,343.1 175.4,341 181.5,339.6 187.8,338.8 194,338 200.3,338.1 206.4,336.2 212.7,336.2 214.7,329.9 218.8,325.3 223.6,321.5 229.6,321.3 235.7,321.5 241.6,320.4 247.6,319.9 257.5,321.5 264.8,319.6 272.3,318.9 279.4,316.3 286.2,315.1 293.1,316.1 299.9,314.7 306.7,314.1 313.6,313.6 320.4,313.6 327.3,313.5 335.4,311.4 343.2,308.3 351,304.8 359.2,302.4 369.1,308.3 379.1,314.9 389.1,314.3"/>
<polyline fill="none" stroke="#000" stroke-width="2.8" stroke-linejoin="round" stroke-linecap="round" points="379.1,314.9 379.1,321.9 384.6,326.1 390.1,330.2 396,333.9 401.4,338.2 407,342.2 412.4,345 417.4,348.3 422.2,352 426.9,355.8 432.9,356.1 438.9,355.8 444,360.7 449.1,365.5 453.7,370.8 458.8,375.7 464.9,381.6 470.8,387.7 466,391.9 460.8,395.6 463.3,403.8 466.8,411.6 470.5,417.8 475.1,423.3 478.7,429.5 483.9,433.9 489.3,438.2 494.7,442.5 501.1,442.9 507.4,442.4 513.7,441.4 520,441.5"/>
<polyline fill="none" stroke="#000" stroke-width="2.8" stroke-linejoin="round" stroke-linecap="round" points="134,560.1 141.1,561.3 148.4,560.2 155.5,561.1 162.6,562.1 169.8,562 174.8,557.8 180.5,554.7 185.8,551.1 191.5,548.6 197.8,548.1 203.7,546.1 211.6,547.2 219.6,547.6 227.6,548.1 233.8,547.3 239.6,545.1 245.9,545.5 252.1,546.9 258.4,547.4 264.6,548.1 270.9,548.6 277.1,550 283.4,550.1 288.8,557.1 295.4,563 301.8,566.2 308,569.7 314.9,571.9 320.8,576.1 327.3,579 329.3,584"/>
<polyline fill="none" stroke="#000" stroke-width="2.8" stroke-linejoin="round" stroke-linecap="round" points="520,441.5 527.9,438.5 534.2,439.8 540.5,441.4 547,442.1 553.5,442.1 559.8,443.5 566.3,444 572.7,445.3 579.3,444.9 585.7,446.5 593.6,452.4 601.6,453.3 609.6,454.4 619.5,459.4 626.1,459.8 632.6,460.7 639.1,461.6 645.5,463.4 649.4,466.4 657.5,465.2 665.4,463 675.4,465.4 678.3,471.4 674.3,476.3 669.4,480.3 663.4,486.3 667.4,491.3 673.5,491.9 679.4,493.1 685.2,495 691.4,494.6 697.3,496.3 704.6,494.9 711.9,493.7 719.2,492.3 725.4,490.7 731.4,488.4 737.4,486.3 743,483.1 749.1,481.3 755.5,477.9 761.9,474.6 768.8,472.2 775,468.4 782,468.9 788.9,467.1 795.9,466.8 802.9,466.6 809.9,466.3 816.9,466.4 823.3,465 829.7,463.8 835.9,461.8 842.1,459.9 848.7,459.4 855.3,455.3 861.9,451.2 868.7,447.4 875.8,444.9 883.2,442.9 890,439.5"/>
<polyline fill="none" stroke="#000" stroke-width="2.8" stroke-linejoin="round" stroke-linecap="round" points="890,439.5 899.9,436.5 907.8,439.5 915.8,438.8 923.8,437.5 930.3,434.5 936.8,431.7 943.4,428.8 949.7,425.5 956.2,419.9 963.6,415.6 968.8,410.4 973.3,404.6 977.6,398.6 983.8,396.8 989.8,394.3 995.5,391.3 1001.5,388.9 1007.5,386.7 1011.5,387.7 1017.8,385.7 1024.5,385.4 1030.8,383.2 1037.4,382.7 1042.5,378.8 1048.1,375.7 1053.5,372.4 1059.3,369.7 1065.1,366.1 1070.9,362.2 1076.8,358.8 1082.9,355.6 1089.2,352.8 1094.9,350.1 1101.1,348.6 1107.1,346.8 1114.3,347.5 1121.1,349.8 1127.1,344.8 1134.4,345.8 1141.7,345.7 1149,345.8 1156.2,343.8 1163.5,342.7 1170.9,341.8 1176.7,337.1 1182.9,332.9 1189.5,332.3 1196.1,331.6 1202.8,331.9 1210.6,335 1218.7,336.8 1225.4,337.2 1232,335.8 1238.7,335.4 1245.8,334.5 1252.8,333 1260,332.9"/>
<polyline fill="none" stroke="#000" stroke-width="2.8" stroke-linejoin="round" stroke-linecap="round" points="1260,332.9 1266.7,333.5 1273.3,335.2 1279.8,336.8 1285.8,336.9 1291.8,337.8 1303.7,336.8 1307.7,331.9 1313.8,331.5 1319.6,329.3 1325.5,328.1 1331.8,328.7 1337.6,326.9 1343.6,320.9 1351.6,319.9 1359.5,322.9 1367.5,325.9 1373.4,324.4 1379.5,324.3 1385.3,322.5 1391.5,322.5 1397.6,322.5 1403.5,321.4 1409.4,319.9 1417.3,321.9 1425.3,313.9 1431.4,311.9 1437.1,308.8 1443.3,306.9 1449.2,302 1455.1,301 1461.1,299.8 1467.2,300.1 1473.1,298.9 1479.1,298 1486.2,297.5 1493.1,296 1500,294.7 1507,293.5 1514.1,293.6 1521,292 1527.2,296.4 1534,299.9 1540.9,303 1548.7,306.5 1556.9,308.9 1564.8,310.5 1572.8,310.9 1579.6,313.8 1586.9,315.4 1593.7,318.4 1600.7,320.9 1608.1,322.1 1615.5,323.1 1622.8,324.6 1630,326.9"/>
<polyline fill="none" stroke="#000" stroke-width="2.8" stroke-linejoin="round" stroke-linecap="round" points="1630,326.9 1637.9,328.9 1642.6,332.8 1647,336.9 1650.8,341.7 1654.9,346.2 1659.8,349.8 1667.8,353.8 1673.8,355.2 1679.7,356.8 1686.3,361.9 1693.7,365.7 1699.4,368.5 1705.4,370.5 1711.6,371.7 1717.7,374.5 1723.6,377.7 1730.5,381.6 1737.1,385.9 1743.5,390.6 1750.7,394.6 1757.4,399.6 1764.7,404.2 1771.4,409.6 1779.4,406.6 1791.3,406.6 1797.2,408.5 1803.1,410.6 1809.3,411.6 1814.3,419.5 1816.2,427.5 1827.2,427.5 1835.2,435.5 1841.7,437.1 1848.5,437.5 1855.1,438.5"/>
<polyline fill="none" stroke="#000" stroke-width="2.8" stroke-linejoin="round" stroke-linecap="round" points="1835.2,435.5 1836.4,441.5 1838.2,447.4 1835.4,453.2 1834.2,459.7 1831.2,465.4 1832.2,477.3 1827.9,484.2 1824.2,491.3 1823.5,498.2 1824.2,505.2 1826.4,511.4 1829.1,517.4 1832.2,523.2 1837.9,526.8 1843.8,530 1849.1,534.1 1855.6,537.2 1862.5,539.2 1869.1,542.1 1876,551.1 1877,563 1878.5,570.1 1880.2,577.2 1883,584"/>
<polyline fill="none" stroke="#000" stroke-width="2.8" stroke-linejoin="round" stroke-linecap="round" points="329.3,584 328.3,587.9 334.8,591.7 341.2,595.9 346.6,598.7 351.5,602.5 357.2,604.8 358.5,611.2 361.1,617.3 362.2,623.8 367.1,628.3 371.1,633.7 377.2,634.1 382.9,636.4 388.9,637.2 395,637.7 403.2,640.1 411,643.7 411.9,649.8 414,655.7 419,661.6 425.1,666.5 430.9,671.6 436,674.9 440.8,678.7 446.2,681.6 450.8,685.6 458.3,689.8 464.8,695.5 471.8,698.6 479.3,700.4 486.7,702.5 493.3,705.5 499.6,709.2 506.6,711.5 510.2,719.4 513.6,727.4 520,731.4"/>
<polyline fill="none" stroke="#000" stroke-width="2.8" stroke-linejoin="round" stroke-linecap="round" points="520,731.4 529.9,737.4 533.3,744.7 537.8,751.3 543.6,753.9 550,754.8 555.8,757.3 560.6,761.5 565,766 569.6,770.4 573.7,775.2 579.6,777.7 585.8,779.5 591.6,782.2 599,784.4 606.5,786.2 613.6,789.2 617.8,793.8 623,797 627.5,801.2 633.9,802.5 640.2,804.1 646.5,806.1 653.1,806.6 659.4,808.1 664.5,812 670.3,814.6 675.8,817.9 681.3,821.1 691.3,825.1 695.3,833 702.2,838 709.2,843 716.3,845.9 722.6,850.2 729.2,854"/>
<polyline fill="none" stroke="#000" stroke-width="2.8" stroke-linejoin="round" stroke-linecap="round" points="1883,584 1887,587.9 1892.7,591.8 1898.2,595.9 1902.9,600.9 1910.7,604.8 1918.9,607.8 1918.9,612.8 1913.8,617.8 1907.9,621.8 1915.4,625.8 1922.9,629.8 1924.5,635.9 1926.9,641.7 1921.2,645.6 1915.7,650 1909.9,653.7 1910.4,660.7 1910.9,667.6 1905.8,673 1900.9,678.6 1898.5,686.9 1897,695.5 1895.2,702.3 1892,708.5 1893.2,714.5 1895.1,720.3 1896,726.4 1891.8,732.2 1887,737.4 1880.1,740.9 1873.7,745.3 1867.1,749.3 1860,754.2 1853.1,759.3 1849.4,765 1845.8,770.9 1843.1,777.2 1837.2,780.6 1831.1,783.7 1825.2,787.2 1819.9,790.5 1814.6,793.8 1809.3,797.2 1807,805.1 1805.3,813.1 1796.3,817.1 1793.3,825.1 1795.4,832.3 1797.2,839.6 1799.3,846.8 1801.3,854"/>
<polyline fill="none" stroke="#000" stroke-width="2.8" stroke-linejoin="round" stroke-linecap="round" points="729.2,854 735.1,859.8 740.8,863 747.1,864.7 753,866.1 759.1,866.7 765.4,871 772,874.7 779,877.7 785.2,880.1 790.9,883.3 796.6,886.7 802.9,888.7 809.9,888.8 816.9,887.7 824.4,889.4 831.7,891.7 838.8,894.6 844.8,895.5 850.9,895.8 856.8,897.1 862.7,898.6 869.6,898.8 876.3,900.9 883.1,902.1 890,902.6"/>
<polyline fill="none" stroke="#000" stroke-width="2.8" stroke-linejoin="round" stroke-linecap="round" points="890,902.6 895.7,905.5 902.1,906.4 907.7,909.6 913.7,911.7 919.8,913.6 927.8,913.6 935.3,915.3 942.2,918.9 949.7,920.5 955.1,925.8 961.9,929.4 967.6,934.5 972.7,938.4 978.6,940.8 984,944.2 989.5,947.4 996.4,948.8 1003.4,949 1010.5,948.3 1017.4,949.4 1027.4,953.4 1035.4,955.3 1043.4,957.4 1051.3,955.4 1058.3,957.9 1065.3,960.4 1071.9,959.8 1078.5,959.2 1085.2,959.4 1092.2,959.1 1099.2,959.8 1106.1,958.5 1113.1,959.4 1119.1,961.5 1125.1,963.4 1132.4,964.3 1139.8,964.5 1147,966.4 1154.8,963.1 1162.9,960.4 1169.6,960 1176.2,959.1 1182.9,958.4 1188.8,952.4 1195.6,950.1 1202.8,949.4 1209.5,952.7 1216.8,954.4 1223.4,953.9 1229.9,953.2 1236.1,950.7 1242.7,950.4 1252.6,955.4 1253.6,960.4 1260,961.4"/>
<polyline fill="none" stroke="#000" stroke-width="2.8" stroke-linejoin="round" stroke-linecap="round" points="1260,961.4 1267.9,960.4 1274.6,954.6 1281.8,949.4 1287.8,939.5 1293.4,935.8 1300,933.9 1305.6,930.1 1311.4,926.9 1317.7,924.4 1323.7,921.5 1333.6,917.6 1335.6,907.6 1341.8,906.3 1347.8,904.1 1353.6,901.6 1360.2,900.7 1366.8,900 1373.6,900.9 1380.1,899.7 1386.8,899.5 1393.4,898.6 1403.4,893.6 1408,889.5 1413.4,886.7 1420.5,885.7 1427.7,886.6 1434.9,886 1442,885.1 1449.2,885.7 1455.2,882.7 1461,884.5 1467.1,884.9 1473.1,885.7 1479.1,895.6 1484.1,900.4 1490.2,903.7 1495.1,908.6 1503,911.6 1503.4,917.7 1505.8,923.4 1506,929.5 1515,936.5 1525,937.5 1525,929.5 1533.2,926.1 1540.9,921.5 1548.9,919.5 1556.9,917.6 1564.8,914.6 1572.2,915.3 1579.5,916.7 1586.8,917.6 1588,923.8 1591.1,929.4 1593.4,935.3 1594.7,941.5 1596.7,947.5 1599.1,953.3 1601.4,959.2 1602.7,965.4 1604.3,971.3 1605.5,977.2 1605.7,983.3 1605.5,989.8 1604.5,996.3 1603.8,1002.8 1602.7,1009.2 1608.6,1011.2 1614.7,1012.2 1622.4,1013.3 1630,1015.2"/>
<polyline fill="none" stroke="#000" stroke-width="2.8" stroke-linejoin="round" stroke-linecap="round" points="1630,1015.2 1634.9,1011.2 1637.9,1004.3 1644.9,1003.1 1651.7,1001.2 1658.8,1000.3 1665.8,999.3 1659.8,989.3 1667.5,986 1675.7,984.3 1676.7,973.4 1683.5,969.7 1690.3,965.9 1697.7,963.4 1699.7,955.4 1709.6,955.4 1711.6,961.4 1718,963.1 1724.5,964 1731.1,964.6 1737.5,966.4 1744,962.6 1750.8,959.6 1756.6,954.5 1763.4,951.4 1770.6,950 1777.4,947.4 1780.3,940.4 1783.4,933.5 1781.4,925.6 1779.4,917.6 1783.9,909.9 1787.3,901.6 1786.6,895.2 1786.3,888.7 1790.8,883.2 1795.3,877.7 1797.6,871.8 1800.1,866 1801.3,859.8 1801.3,854"/>
</g>
<g stroke="#000" stroke-width="3.3" fill="none">
<rect x="133.5" y="33.5" width="1810" height="1034.3"/>
<line x1="133.5" y1="1067.8" x2="133.5" y2="1082.8"/>
<line x1="392.071" y1="1067.8" x2="392.071" y2="1082.8"/>
<line x1="650.643" y1="1067.8" x2="650.643" y2="1082.8"/>
<line x1="909.214" y1="1067.8" x2="909.214" y2="1082.8"/>
<line x1="1167.79" y1="1067.8" x2="1167.79" y2="1082.8"/>
<line x1="1426.36" y1="1067.8" x2="1426.36" y2="1082.8"/>
<line x1="1684.93" y1="1067.8" x2="1684.93" y2="1082.8"/>
<line x1="1943.5" y1="1067.8" x2="1943.5" y2="1082.8"/>
<line x1="118.5" y1="33.5" x2="133.5" y2="33.5"/>
<line x1="118.5" y1="292.075" x2="133.5" y2="292.075"/>
<line x1="118.5" y1="550.65" x2="133.5" y2="550.65"/>
<line x1="118.5" y1="809.225" x2="133.5" y2="809.225"/>
<line x1="118.5" y1="1067.8" x2="133.5" y2="1067.8"/>
</g>
<text class="tk" transform="translate(133.8,1136.3) scale(0.94,1)" text-anchor="middle">70E</text>
<text class="tk" transform="translate(392.4,1136.3) scale(0.94,1)" text-anchor="middle">75E</text>
<text class="tk" transform="translate(650.9,1136.3) scale(0.94,1)" text-anchor="middle">80E</text>
<text class="tk" transform="translate(909.5,1136.3) scale(0.94,1)" text-anchor="middle">85E</text>
<text class="tk" transform="translate(1168.1,1136.3) scale(0.94,1)" text-anchor="middle">90E</text>
<text class="tk" transform="translate(1426.7,1136.3) scale(0.94,1)" text-anchor="middle">95E</text>
<text class="tk" transform="translate(1685.2,1136.3) scale(0.94,1)" text-anchor="middle">100E</text>
<text class="tk" transform="translate(1943.8,1136.3) scale(0.94,1)" text-anchor="middle">105E</text>
<text class="tk" transform="translate(99,50.8) scale(0.94,1)" text-anchor="end">45N</text>
<text class="tk" transform="translate(99,309.4) scale(0.94,1)" text-anchor="end">40N</text>
<text class="tk" transform="translate(99,567.9) scale(0.94,1)" text-anchor="end">35N</text>
<text class="tk" transform="translate(99,826.5) scale(0.94,1)" text-anchor="end">30N</text>
<text class="tk" transform="translate(99,1085.1) scale(0.94,1)" text-anchor="end">25N</text>
<g>
<polygon class="a" points="217,1202.4 133.5,1226.1 217,1249.8"/>
<polygon class="m" points="1860.3,1202.4 1943,1226.1 1860.3,1249.8"/>
<rect class="a" x="216" y="1202.4" width="137.61" height="47.4"/>
<rect class="b" x="353.11" y="1202.4" width="137.61" height="47.4"/>
<rect class="c" x="490.22" y="1202.4" width="137.61" height="47.4"/>
<rect class="d" x="627.32" y="1202.4" width="137.61" height="47.4"/>
<rect class="e" x="764.43" y="1202.4" width="137.61" height="47.4"/>
<rect class="f" x="901.54" y="1202.4" width="137.61" height="47.4"/>
<rect class="g" x="1038.65" y="1202.4" width="137.61" height="47.4"/>
<rect class="y" x="1175.76" y="1202.4" width="137.61" height="47.4"/>
<rect class="o" x="1312.87" y="1202.4" width="137.61" height="47.4"/>
<rect class="p" x="1449.97" y="1202.4" width="137.61" height="47.4"/>
<rect class="r" x="1587.08" y="1202.4" width="137.61" height="47.4"/>
<rect class="m" x="1724.19" y="1202.4" width="137.61" height="47.4"/>
<polygon fill="none" stroke="#000" stroke-width="3.2" stroke-linejoin="miter" points="216,1202.4 1861.3,1202.4 1943,1226.1 1861.3,1249.8 216,1249.8 133.5,1226.1"/>
<g stroke="#000" stroke-width="3.2">
<line x1="216" y1="1249.8" x2="216" y2="1267.8"/>
<line x1="490.217" y1="1249.8" x2="490.217" y2="1267.8"/>
<line x1="764.433" y1="1249.8" x2="764.433" y2="1267.8"/>
<line x1="1038.65" y1="1249.8" x2="1038.65" y2="1267.8"/>
<line x1="1312.87" y1="1249.8" x2="1312.87" y2="1267.8"/>
<line x1="1587.08" y1="1249.8" x2="1587.08" y2="1267.8"/>
<line x1="1861.3" y1="1249.8" x2="1861.3" y2="1267.8"/>
</g></g>
<text class="tk" transform="translate(215.1,1321) scale(0.94,1)" text-anchor="middle">−16</text>
<text class="tk" transform="translate(489.3,1321) scale(0.94,1)" text-anchor="middle">−12</text>
<text class="tk" transform="translate(763.5,1321) scale(0.94,1)" text-anchor="middle">−8</text>
<text class="tk" transform="translate(1037.7,1321) scale(0.94,1)" text-anchor="middle">−4</text>
<text class="tk" transform="translate(1313.5,1321) scale(0.94,1)" text-anchor="middle">0</text>
<text class="tk" transform="translate(1587.7,1321) scale(0.94,1)" text-anchor="middle">4</text>
<text class="tk" transform="translate(1861.9,1321) scale(0.94,1)" text-anchor="middle">8</text>
<text class="cap" transform="translate(995.7,1440.3) scale(0.956,1)" text-anchor="middle">(<tspan font-weight="bold">c</tspan>)</text>
</g>
</svg></body></html>
